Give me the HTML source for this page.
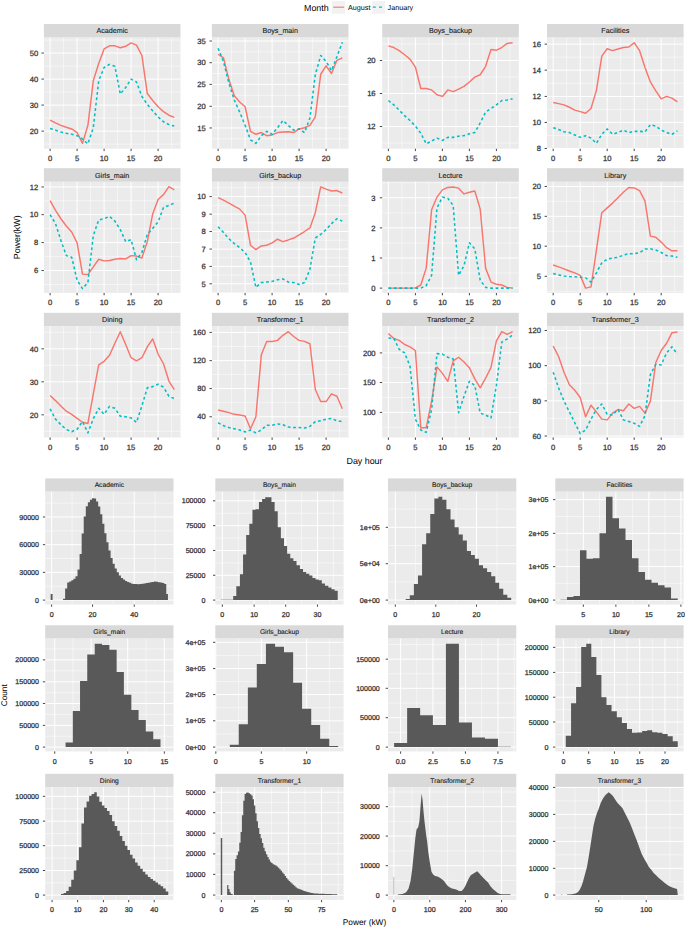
<!DOCTYPE html>
<html><head><meta charset="utf-8"><style>
html,body{margin:0;padding:0;background:#fff;}
svg{display:block;}
text{font-family:"Liberation Sans", sans-serif;text-rendering:geometricPrecision;}
text.t{stroke:currentColor;stroke-width:0.28px;}
text.s{stroke:currentColor;stroke-width:0.12px;}
</style></head><body>
<svg width="685" height="927" viewBox="0 0 685 927" font-family='"Liberation Sans", sans-serif'>
<rect width="685" height="927" fill="#fff"/>
<rect x="43.9" y="24" width="136.6" height="13.6" fill="#D9D9D9"/>
<text x="112.2" y="33.38" class="s" font-size="7.2" fill="#1A1A1A" color="#1A1A1A" text-anchor="middle">Academic</text>
<rect x="43.9" y="37.6" width="136.6" height="111.1" fill="#EBEBEB"/>
<line x1="63.6" y1="37.6" x2="63.6" y2="148.7" stroke="#fff" stroke-width="0.5"/>
<line x1="90.6" y1="37.6" x2="90.6" y2="148.7" stroke="#fff" stroke-width="0.5"/>
<line x1="117.6" y1="37.6" x2="117.6" y2="148.7" stroke="#fff" stroke-width="0.5"/>
<line x1="144.6" y1="37.6" x2="144.6" y2="148.7" stroke="#fff" stroke-width="0.5"/>
<line x1="171.6" y1="37.6" x2="171.6" y2="148.7" stroke="#fff" stroke-width="0.5"/>
<line x1="43.9" y1="66.07" x2="180.5" y2="66.07" stroke="#fff" stroke-width="0.5"/>
<line x1="43.9" y1="92.09" x2="180.5" y2="92.09" stroke="#fff" stroke-width="0.5"/>
<line x1="43.9" y1="118.1" x2="180.5" y2="118.1" stroke="#fff" stroke-width="0.5"/>
<line x1="43.9" y1="40.06" x2="180.5" y2="40.06" stroke="#fff" stroke-width="0.5"/>
<line x1="43.9" y1="144.12" x2="180.5" y2="144.12" stroke="#fff" stroke-width="0.5"/>
<line x1="50.1" y1="37.6" x2="50.1" y2="148.7" stroke="#fff" stroke-width="1.0"/>
<line x1="77.1" y1="37.6" x2="77.1" y2="148.7" stroke="#fff" stroke-width="1.0"/>
<line x1="104.1" y1="37.6" x2="104.1" y2="148.7" stroke="#fff" stroke-width="1.0"/>
<line x1="131.1" y1="37.6" x2="131.1" y2="148.7" stroke="#fff" stroke-width="1.0"/>
<line x1="158.1" y1="37.6" x2="158.1" y2="148.7" stroke="#fff" stroke-width="1.0"/>
<line x1="43.9" y1="53.07" x2="180.5" y2="53.07" stroke="#fff" stroke-width="1.0"/>
<line x1="43.9" y1="79.08" x2="180.5" y2="79.08" stroke="#fff" stroke-width="1.0"/>
<line x1="43.9" y1="105.09" x2="180.5" y2="105.09" stroke="#fff" stroke-width="1.0"/>
<line x1="43.9" y1="131.11" x2="180.5" y2="131.11" stroke="#fff" stroke-width="1.0"/>
<svg x="43.9" y="37.6" width="136.6" height="111.1" overflow="hidden"><g transform="translate(-43.9,-37.6)">
<polyline points="50.1,120.03 55.5,122.92 60.9,125.33 66.3,127.26 71.7,128.94 77.1,132.55 82.5,143.39 87.9,125.33 93.3,80.77 98.7,63.42 104.1,48.97 109.5,45.84 114.9,45.84 120.3,47.77 125.7,46.32 131.1,42.95 136.5,45.12 141.9,55.47 147.3,93.53 152.7,100.52 158.1,106.78 163.5,111.6 168.9,115.21 174.3,117.38" fill="none" stroke="#F8766D" stroke-width="1.45" stroke-linejoin="round"/>
<polyline points="50.1,128.46 55.5,130.15 60.9,132.07 66.3,133.28 71.7,134.24 77.1,135.69 82.5,139.06 87.9,143.88 93.3,127.74 98.7,80.77 104.1,67.52 109.5,64.39 114.9,66.31 120.3,94.01 125.7,87.51 131.1,79.08 136.5,81.97 141.9,96.42 147.3,104.37 152.7,110.88 158.1,116.9 163.5,121.72 168.9,124.61 174.3,126.05" fill="none" stroke="#00BFC4" stroke-width="1.55" stroke-dasharray="2.8 2.6" stroke-linejoin="round"/>
</g></svg>
<line x1="50.1" y1="148.7" x2="50.1" y2="151.1" stroke="#333333" stroke-width="0.9"/>
<text x="50.1" y="161.22" class="t" font-size="7.6" fill="#383838" color="#383838" text-anchor="middle">0</text>
<line x1="77.1" y1="148.7" x2="77.1" y2="151.1" stroke="#333333" stroke-width="0.9"/>
<text x="77.1" y="161.22" class="t" font-size="7.6" fill="#383838" color="#383838" text-anchor="middle">5</text>
<line x1="104.1" y1="148.7" x2="104.1" y2="151.1" stroke="#333333" stroke-width="0.9"/>
<text x="104.1" y="161.22" class="t" font-size="7.6" fill="#383838" color="#383838" text-anchor="middle">10</text>
<line x1="131.1" y1="148.7" x2="131.1" y2="151.1" stroke="#333333" stroke-width="0.9"/>
<text x="131.1" y="161.22" class="t" font-size="7.6" fill="#383838" color="#383838" text-anchor="middle">15</text>
<line x1="158.1" y1="148.7" x2="158.1" y2="151.1" stroke="#333333" stroke-width="0.9"/>
<text x="158.1" y="161.22" class="t" font-size="7.6" fill="#383838" color="#383838" text-anchor="middle">20</text>
<line x1="41.5" y1="53.07" x2="43.9" y2="53.07" stroke="#333333" stroke-width="0.9"/>
<text x="38.3" y="55.79" class="t" font-size="7.6" fill="#383838" color="#383838" text-anchor="end">50</text>
<line x1="41.5" y1="79.08" x2="43.9" y2="79.08" stroke="#333333" stroke-width="0.9"/>
<text x="38.3" y="81.8" class="t" font-size="7.6" fill="#383838" color="#383838" text-anchor="end">40</text>
<line x1="41.5" y1="105.09" x2="43.9" y2="105.09" stroke="#333333" stroke-width="0.9"/>
<text x="38.3" y="107.82" class="t" font-size="7.6" fill="#383838" color="#383838" text-anchor="end">30</text>
<line x1="41.5" y1="131.11" x2="43.9" y2="131.11" stroke="#333333" stroke-width="0.9"/>
<text x="38.3" y="133.83" class="t" font-size="7.6" fill="#383838" color="#383838" text-anchor="end">20</text>
<rect x="211.9" y="24" width="136.6" height="13.6" fill="#D9D9D9"/>
<text x="280.2" y="33.38" class="s" font-size="7.2" fill="#1A1A1A" color="#1A1A1A" text-anchor="middle">Boys_main</text>
<rect x="211.9" y="37.6" width="136.6" height="111.1" fill="#EBEBEB"/>
<line x1="231.6" y1="37.6" x2="231.6" y2="148.7" stroke="#fff" stroke-width="0.5"/>
<line x1="258.6" y1="37.6" x2="258.6" y2="148.7" stroke="#fff" stroke-width="0.5"/>
<line x1="285.6" y1="37.6" x2="285.6" y2="148.7" stroke="#fff" stroke-width="0.5"/>
<line x1="312.6" y1="37.6" x2="312.6" y2="148.7" stroke="#fff" stroke-width="0.5"/>
<line x1="339.6" y1="37.6" x2="339.6" y2="148.7" stroke="#fff" stroke-width="0.5"/>
<line x1="211.9" y1="51.86" x2="348.5" y2="51.86" stroke="#fff" stroke-width="0.5"/>
<line x1="211.9" y1="73.54" x2="348.5" y2="73.54" stroke="#fff" stroke-width="0.5"/>
<line x1="211.9" y1="95.34" x2="348.5" y2="95.34" stroke="#fff" stroke-width="0.5"/>
<line x1="211.9" y1="117.14" x2="348.5" y2="117.14" stroke="#fff" stroke-width="0.5"/>
<line x1="211.9" y1="138.82" x2="348.5" y2="138.82" stroke="#fff" stroke-width="0.5"/>
<line x1="218.1" y1="37.6" x2="218.1" y2="148.7" stroke="#fff" stroke-width="1.0"/>
<line x1="245.1" y1="37.6" x2="245.1" y2="148.7" stroke="#fff" stroke-width="1.0"/>
<line x1="272.1" y1="37.6" x2="272.1" y2="148.7" stroke="#fff" stroke-width="1.0"/>
<line x1="299.1" y1="37.6" x2="299.1" y2="148.7" stroke="#fff" stroke-width="1.0"/>
<line x1="326.1" y1="37.6" x2="326.1" y2="148.7" stroke="#fff" stroke-width="1.0"/>
<line x1="211.9" y1="41.02" x2="348.5" y2="41.02" stroke="#fff" stroke-width="1.0"/>
<line x1="211.9" y1="62.7" x2="348.5" y2="62.7" stroke="#fff" stroke-width="1.0"/>
<line x1="211.9" y1="84.38" x2="348.5" y2="84.38" stroke="#fff" stroke-width="1.0"/>
<line x1="211.9" y1="106.3" x2="348.5" y2="106.3" stroke="#fff" stroke-width="1.0"/>
<line x1="211.9" y1="127.98" x2="348.5" y2="127.98" stroke="#fff" stroke-width="1.0"/>
<svg x="211.9" y="37.6" width="136.6" height="111.1" overflow="hidden"><g transform="translate(-211.9,-37.6)">
<polyline points="218.1,54.27 223.5,57.88 228.9,79.56 234.3,95.7 239.7,101.96 245.1,106.78 250.5,131.35 255.9,134.24 261.3,132.55 266.7,135.69 272.1,134.96 277.5,132.55 282.9,132.07 288.3,131.83 293.7,132.55 299.1,128.94 304.5,127.74 309.9,125.33 315.3,116.9 320.7,74.26 326.1,65.83 331.5,73.54 336.9,60.29 342.3,57.88" fill="none" stroke="#F8766D" stroke-width="1.45" stroke-linejoin="round"/>
<polyline points="218.1,48.25 223.5,61.5 228.9,83.18 234.3,100.04 239.7,112.08 245.1,125.33 250.5,139.78 255.9,143.39 261.3,135.69 266.7,131.35 272.1,134.24 277.5,127.74 282.9,120.51 288.3,125.33 293.7,130.15 299.1,128.94 304.5,132.55 309.9,118.1 315.3,74.74 320.7,55.47 326.1,61.5 331.5,70.65 336.9,56.68 342.3,42.23" fill="none" stroke="#00BFC4" stroke-width="1.55" stroke-dasharray="2.8 2.6" stroke-linejoin="round"/>
</g></svg>
<line x1="218.1" y1="148.7" x2="218.1" y2="151.1" stroke="#333333" stroke-width="0.9"/>
<text x="218.1" y="161.22" class="t" font-size="7.6" fill="#383838" color="#383838" text-anchor="middle">0</text>
<line x1="245.1" y1="148.7" x2="245.1" y2="151.1" stroke="#333333" stroke-width="0.9"/>
<text x="245.1" y="161.22" class="t" font-size="7.6" fill="#383838" color="#383838" text-anchor="middle">5</text>
<line x1="272.1" y1="148.7" x2="272.1" y2="151.1" stroke="#333333" stroke-width="0.9"/>
<text x="272.1" y="161.22" class="t" font-size="7.6" fill="#383838" color="#383838" text-anchor="middle">10</text>
<line x1="299.1" y1="148.7" x2="299.1" y2="151.1" stroke="#333333" stroke-width="0.9"/>
<text x="299.1" y="161.22" class="t" font-size="7.6" fill="#383838" color="#383838" text-anchor="middle">15</text>
<line x1="326.1" y1="148.7" x2="326.1" y2="151.1" stroke="#333333" stroke-width="0.9"/>
<text x="326.1" y="161.22" class="t" font-size="7.6" fill="#383838" color="#383838" text-anchor="middle">20</text>
<line x1="209.5" y1="41.02" x2="211.9" y2="41.02" stroke="#333333" stroke-width="0.9"/>
<text x="205.7" y="43.74" class="t" font-size="7.6" fill="#383838" color="#383838" text-anchor="end">35</text>
<line x1="209.5" y1="62.7" x2="211.9" y2="62.7" stroke="#333333" stroke-width="0.9"/>
<text x="205.7" y="65.42" class="t" font-size="7.6" fill="#383838" color="#383838" text-anchor="end">30</text>
<line x1="209.5" y1="84.38" x2="211.9" y2="84.38" stroke="#333333" stroke-width="0.9"/>
<text x="205.7" y="87.1" class="t" font-size="7.6" fill="#383838" color="#383838" text-anchor="end">25</text>
<line x1="209.5" y1="106.3" x2="211.9" y2="106.3" stroke="#333333" stroke-width="0.9"/>
<text x="205.7" y="109.02" class="t" font-size="7.6" fill="#383838" color="#383838" text-anchor="end">20</text>
<line x1="209.5" y1="127.98" x2="211.9" y2="127.98" stroke="#333333" stroke-width="0.9"/>
<text x="205.7" y="130.7" class="t" font-size="7.6" fill="#383838" color="#383838" text-anchor="end">15</text>
<rect x="382.2" y="24" width="136.6" height="13.6" fill="#D9D9D9"/>
<text x="450.5" y="33.38" class="s" font-size="7.2" fill="#1A1A1A" color="#1A1A1A" text-anchor="middle">Boys_backup</text>
<rect x="382.2" y="37.6" width="136.6" height="111.1" fill="#EBEBEB"/>
<line x1="401.9" y1="37.6" x2="401.9" y2="148.7" stroke="#fff" stroke-width="0.5"/>
<line x1="428.9" y1="37.6" x2="428.9" y2="148.7" stroke="#fff" stroke-width="0.5"/>
<line x1="455.9" y1="37.6" x2="455.9" y2="148.7" stroke="#fff" stroke-width="0.5"/>
<line x1="482.9" y1="37.6" x2="482.9" y2="148.7" stroke="#fff" stroke-width="0.5"/>
<line x1="509.9" y1="37.6" x2="509.9" y2="148.7" stroke="#fff" stroke-width="0.5"/>
<line x1="382.2" y1="77.03" x2="518.8" y2="77.03" stroke="#fff" stroke-width="0.5"/>
<line x1="382.2" y1="110.03" x2="518.8" y2="110.03" stroke="#fff" stroke-width="0.5"/>
<line x1="382.2" y1="44.03" x2="518.8" y2="44.03" stroke="#fff" stroke-width="0.5"/>
<line x1="382.2" y1="143.03" x2="518.8" y2="143.03" stroke="#fff" stroke-width="0.5"/>
<line x1="388.4" y1="37.6" x2="388.4" y2="148.7" stroke="#fff" stroke-width="1.0"/>
<line x1="415.4" y1="37.6" x2="415.4" y2="148.7" stroke="#fff" stroke-width="1.0"/>
<line x1="442.4" y1="37.6" x2="442.4" y2="148.7" stroke="#fff" stroke-width="1.0"/>
<line x1="469.4" y1="37.6" x2="469.4" y2="148.7" stroke="#fff" stroke-width="1.0"/>
<line x1="496.4" y1="37.6" x2="496.4" y2="148.7" stroke="#fff" stroke-width="1.0"/>
<line x1="382.2" y1="60.53" x2="518.8" y2="60.53" stroke="#fff" stroke-width="1.0"/>
<line x1="382.2" y1="93.53" x2="518.8" y2="93.53" stroke="#fff" stroke-width="1.0"/>
<line x1="382.2" y1="126.53" x2="518.8" y2="126.53" stroke="#fff" stroke-width="1.0"/>
<svg x="382.2" y="37.6" width="136.6" height="111.1" overflow="hidden"><g transform="translate(-382.2,-37.6)">
<polyline points="388.4,45.84 393.8,47.53 399.2,50.66 404.6,54.75 410,59.09 415.4,67.04 420.8,88.47 426.2,88.47 431.6,89.92 437,94.74 442.4,96.42 447.8,89.92 453.2,91.61 458.6,89.2 464,86.31 469.4,81.97 474.8,77.15 480.2,74.74 485.6,66.31 491,49.45 496.4,50.18 501.8,47.53 507.2,43.43 512.6,42.71" fill="none" stroke="#F8766D" stroke-width="1.45" stroke-linejoin="round"/>
<polyline points="388.4,100.52 393.8,104.85 399.2,110.15 404.6,115.69 410,120.51 415.4,126.05 420.8,133.28 426.2,143.88 431.6,140.99 437,138.09 442.4,140.5 447.8,137.37 453.2,137.37 458.6,136.17 464,135.69 469.4,133.76 474.8,132.55 480.2,122.92 485.6,112.08 491,108.47 496.4,104.85 501.8,100.52 507.2,100.04 512.6,98.83" fill="none" stroke="#00BFC4" stroke-width="1.55" stroke-dasharray="2.8 2.6" stroke-linejoin="round"/>
</g></svg>
<line x1="388.4" y1="148.7" x2="388.4" y2="151.1" stroke="#333333" stroke-width="0.9"/>
<text x="388.4" y="161.22" class="t" font-size="7.6" fill="#383838" color="#383838" text-anchor="middle">0</text>
<line x1="415.4" y1="148.7" x2="415.4" y2="151.1" stroke="#333333" stroke-width="0.9"/>
<text x="415.4" y="161.22" class="t" font-size="7.6" fill="#383838" color="#383838" text-anchor="middle">5</text>
<line x1="442.4" y1="148.7" x2="442.4" y2="151.1" stroke="#333333" stroke-width="0.9"/>
<text x="442.4" y="161.22" class="t" font-size="7.6" fill="#383838" color="#383838" text-anchor="middle">10</text>
<line x1="469.4" y1="148.7" x2="469.4" y2="151.1" stroke="#333333" stroke-width="0.9"/>
<text x="469.4" y="161.22" class="t" font-size="7.6" fill="#383838" color="#383838" text-anchor="middle">15</text>
<line x1="496.4" y1="148.7" x2="496.4" y2="151.1" stroke="#333333" stroke-width="0.9"/>
<text x="496.4" y="161.22" class="t" font-size="7.6" fill="#383838" color="#383838" text-anchor="middle">20</text>
<line x1="379.8" y1="60.53" x2="382.2" y2="60.53" stroke="#333333" stroke-width="0.9"/>
<text x="375.6" y="63.25" class="t" font-size="7.6" fill="#383838" color="#383838" text-anchor="end">20</text>
<line x1="379.8" y1="93.53" x2="382.2" y2="93.53" stroke="#333333" stroke-width="0.9"/>
<text x="375.6" y="96.25" class="t" font-size="7.6" fill="#383838" color="#383838" text-anchor="end">16</text>
<line x1="379.8" y1="126.53" x2="382.2" y2="126.53" stroke="#333333" stroke-width="0.9"/>
<text x="375.6" y="129.25" class="t" font-size="7.6" fill="#383838" color="#383838" text-anchor="end">12</text>
<rect x="547" y="24" width="136.6" height="13.6" fill="#D9D9D9"/>
<text x="615.3" y="33.38" class="s" font-size="7.2" fill="#1A1A1A" color="#1A1A1A" text-anchor="middle">Facilities</text>
<rect x="547" y="37.6" width="136.6" height="111.1" fill="#EBEBEB"/>
<line x1="566.7" y1="37.6" x2="566.7" y2="148.7" stroke="#fff" stroke-width="0.5"/>
<line x1="593.7" y1="37.6" x2="593.7" y2="148.7" stroke="#fff" stroke-width="0.5"/>
<line x1="620.7" y1="37.6" x2="620.7" y2="148.7" stroke="#fff" stroke-width="0.5"/>
<line x1="647.7" y1="37.6" x2="647.7" y2="148.7" stroke="#fff" stroke-width="0.5"/>
<line x1="674.7" y1="37.6" x2="674.7" y2="148.7" stroke="#fff" stroke-width="0.5"/>
<line x1="547" y1="57.16" x2="683.6" y2="57.16" stroke="#fff" stroke-width="0.5"/>
<line x1="547" y1="83.3" x2="683.6" y2="83.3" stroke="#fff" stroke-width="0.5"/>
<line x1="547" y1="109.43" x2="683.6" y2="109.43" stroke="#fff" stroke-width="0.5"/>
<line x1="547" y1="135.45" x2="683.6" y2="135.45" stroke="#fff" stroke-width="0.5"/>
<line x1="553.2" y1="37.6" x2="553.2" y2="148.7" stroke="#fff" stroke-width="1.0"/>
<line x1="580.2" y1="37.6" x2="580.2" y2="148.7" stroke="#fff" stroke-width="1.0"/>
<line x1="607.2" y1="37.6" x2="607.2" y2="148.7" stroke="#fff" stroke-width="1.0"/>
<line x1="634.2" y1="37.6" x2="634.2" y2="148.7" stroke="#fff" stroke-width="1.0"/>
<line x1="661.2" y1="37.6" x2="661.2" y2="148.7" stroke="#fff" stroke-width="1.0"/>
<line x1="547" y1="44.15" x2="683.6" y2="44.15" stroke="#fff" stroke-width="1.0"/>
<line x1="547" y1="70.17" x2="683.6" y2="70.17" stroke="#fff" stroke-width="1.0"/>
<line x1="547" y1="96.42" x2="683.6" y2="96.42" stroke="#fff" stroke-width="1.0"/>
<line x1="547" y1="122.44" x2="683.6" y2="122.44" stroke="#fff" stroke-width="1.0"/>
<line x1="547" y1="148.45" x2="683.6" y2="148.45" stroke="#fff" stroke-width="1.0"/>
<svg x="547" y="37.6" width="136.6" height="111.1" overflow="hidden"><g transform="translate(-547,-37.6)">
<polyline points="553.2,102.45 558.6,103.65 564,104.85 569.4,107.26 574.8,110.15 580.2,111.6 585.6,113.28 591,108.47 596.4,90.4 601.8,56.2 607.2,48.73 612.6,50.66 618,48.97 623.4,47.53 628.8,47.04 634.2,42.71 639.6,50.66 645,67.52 650.4,81.97 655.8,90.88 661.2,98.83 666.6,96.42 672,98.11 677.4,101.96" fill="none" stroke="#F8766D" stroke-width="1.45" stroke-linejoin="round"/>
<polyline points="553.2,127.74 558.6,129.42 564,131.83 569.4,132.55 574.8,134.96 580.2,137.37 585.6,135.69 591,138.09 596.4,143.39 601.8,134.24 607.2,128.94 612.6,134.24 618,132.55 623.4,130.15 628.8,132.55 634.2,131.35 639.6,131.35 645,131.83 650.4,124.61 655.8,126.05 661.2,130.15 666.6,132.55 672,134.24 677.4,130.87" fill="none" stroke="#00BFC4" stroke-width="1.55" stroke-dasharray="2.8 2.6" stroke-linejoin="round"/>
</g></svg>
<line x1="553.2" y1="148.7" x2="553.2" y2="151.1" stroke="#333333" stroke-width="0.9"/>
<text x="553.2" y="161.22" class="t" font-size="7.6" fill="#383838" color="#383838" text-anchor="middle">0</text>
<line x1="580.2" y1="148.7" x2="580.2" y2="151.1" stroke="#333333" stroke-width="0.9"/>
<text x="580.2" y="161.22" class="t" font-size="7.6" fill="#383838" color="#383838" text-anchor="middle">5</text>
<line x1="607.2" y1="148.7" x2="607.2" y2="151.1" stroke="#333333" stroke-width="0.9"/>
<text x="607.2" y="161.22" class="t" font-size="7.6" fill="#383838" color="#383838" text-anchor="middle">10</text>
<line x1="634.2" y1="148.7" x2="634.2" y2="151.1" stroke="#333333" stroke-width="0.9"/>
<text x="634.2" y="161.22" class="t" font-size="7.6" fill="#383838" color="#383838" text-anchor="middle">15</text>
<line x1="661.2" y1="148.7" x2="661.2" y2="151.1" stroke="#333333" stroke-width="0.9"/>
<text x="661.2" y="161.22" class="t" font-size="7.6" fill="#383838" color="#383838" text-anchor="middle">20</text>
<line x1="544.6" y1="44.15" x2="547" y2="44.15" stroke="#333333" stroke-width="0.9"/>
<text x="541" y="46.87" class="t" font-size="7.6" fill="#383838" color="#383838" text-anchor="end">16</text>
<line x1="544.6" y1="70.17" x2="547" y2="70.17" stroke="#333333" stroke-width="0.9"/>
<text x="541" y="72.89" class="t" font-size="7.6" fill="#383838" color="#383838" text-anchor="end">14</text>
<line x1="544.6" y1="96.42" x2="547" y2="96.42" stroke="#333333" stroke-width="0.9"/>
<text x="541" y="99.14" class="t" font-size="7.6" fill="#383838" color="#383838" text-anchor="end">12</text>
<line x1="544.6" y1="122.44" x2="547" y2="122.44" stroke="#333333" stroke-width="0.9"/>
<text x="541" y="125.16" class="t" font-size="7.6" fill="#383838" color="#383838" text-anchor="end">10</text>
<line x1="544.6" y1="148.45" x2="547" y2="148.45" stroke="#333333" stroke-width="0.9"/>
<text x="541" y="151.17" class="t" font-size="7.6" fill="#383838" color="#383838" text-anchor="end">8</text>
<rect x="43.9" y="168.2" width="136.6" height="13.6" fill="#D9D9D9"/>
<text x="112.2" y="177.58" class="s" font-size="7.2" fill="#1A1A1A" color="#1A1A1A" text-anchor="middle">Girls_main</text>
<rect x="43.9" y="181.8" width="136.6" height="111.1" fill="#EBEBEB"/>
<line x1="63.6" y1="181.8" x2="63.6" y2="292.9" stroke="#fff" stroke-width="0.5"/>
<line x1="90.6" y1="181.8" x2="90.6" y2="292.9" stroke="#fff" stroke-width="0.5"/>
<line x1="117.6" y1="181.8" x2="117.6" y2="292.9" stroke="#fff" stroke-width="0.5"/>
<line x1="144.6" y1="181.8" x2="144.6" y2="292.9" stroke="#fff" stroke-width="0.5"/>
<line x1="171.6" y1="181.8" x2="171.6" y2="292.9" stroke="#fff" stroke-width="0.5"/>
<line x1="43.9" y1="200.8" x2="180.5" y2="200.8" stroke="#fff" stroke-width="0.5"/>
<line x1="43.9" y1="228.62" x2="180.5" y2="228.62" stroke="#fff" stroke-width="0.5"/>
<line x1="43.9" y1="256.56" x2="180.5" y2="256.56" stroke="#fff" stroke-width="0.5"/>
<line x1="43.9" y1="284.5" x2="180.5" y2="284.5" stroke="#fff" stroke-width="0.5"/>
<line x1="50.1" y1="181.8" x2="50.1" y2="292.9" stroke="#fff" stroke-width="1.0"/>
<line x1="77.1" y1="181.8" x2="77.1" y2="292.9" stroke="#fff" stroke-width="1.0"/>
<line x1="104.1" y1="181.8" x2="104.1" y2="292.9" stroke="#fff" stroke-width="1.0"/>
<line x1="131.1" y1="181.8" x2="131.1" y2="292.9" stroke="#fff" stroke-width="1.0"/>
<line x1="158.1" y1="181.8" x2="158.1" y2="292.9" stroke="#fff" stroke-width="1.0"/>
<line x1="43.9" y1="186.95" x2="180.5" y2="186.95" stroke="#fff" stroke-width="1.0"/>
<line x1="43.9" y1="214.65" x2="180.5" y2="214.65" stroke="#fff" stroke-width="1.0"/>
<line x1="43.9" y1="242.59" x2="180.5" y2="242.59" stroke="#fff" stroke-width="1.0"/>
<line x1="43.9" y1="270.53" x2="180.5" y2="270.53" stroke="#fff" stroke-width="1.0"/>
<svg x="43.9" y="181.8" width="136.6" height="111.1" overflow="hidden"><g transform="translate(-43.9,-181.8)">
<polyline points="50.1,200.68 55.5,210.31 60.9,218.74 66.3,225.97 71.7,231.99 77.1,242.83 82.5,274.15 87.9,274.63 93.3,266.92 98.7,259.21 104.1,260.9 109.5,260.42 114.9,259.21 120.3,258.49 125.7,258.97 131.1,255.6 136.5,256.08 141.9,258.01 147.3,241.63 152.7,213.93 158.1,199.47 163.5,194.66 168.9,186.71 174.3,189.84" fill="none" stroke="#F8766D" stroke-width="1.45" stroke-linejoin="round"/>
<polyline points="50.1,214.65 55.5,223.56 60.9,240.42 66.3,255.6 71.7,257.28 77.1,280.17 82.5,288.6 87.9,282.58 93.3,235.61 98.7,219.95 104.1,218.74 109.5,216.34 114.9,221.15 120.3,229.58 125.7,241.63 131.1,239.7 136.5,259.69 141.9,252.47 147.3,234.4 152.7,228.38 158.1,221.88 163.5,207.42 168.9,205.5 174.3,203.09" fill="none" stroke="#00BFC4" stroke-width="1.55" stroke-dasharray="2.8 2.6" stroke-linejoin="round"/>
</g></svg>
<line x1="50.1" y1="292.9" x2="50.1" y2="295.3" stroke="#333333" stroke-width="0.9"/>
<text x="50.1" y="305.42" class="t" font-size="7.6" fill="#383838" color="#383838" text-anchor="middle">0</text>
<line x1="77.1" y1="292.9" x2="77.1" y2="295.3" stroke="#333333" stroke-width="0.9"/>
<text x="77.1" y="305.42" class="t" font-size="7.6" fill="#383838" color="#383838" text-anchor="middle">5</text>
<line x1="104.1" y1="292.9" x2="104.1" y2="295.3" stroke="#333333" stroke-width="0.9"/>
<text x="104.1" y="305.42" class="t" font-size="7.6" fill="#383838" color="#383838" text-anchor="middle">10</text>
<line x1="131.1" y1="292.9" x2="131.1" y2="295.3" stroke="#333333" stroke-width="0.9"/>
<text x="131.1" y="305.42" class="t" font-size="7.6" fill="#383838" color="#383838" text-anchor="middle">15</text>
<line x1="158.1" y1="292.9" x2="158.1" y2="295.3" stroke="#333333" stroke-width="0.9"/>
<text x="158.1" y="305.42" class="t" font-size="7.6" fill="#383838" color="#383838" text-anchor="middle">20</text>
<line x1="41.5" y1="186.95" x2="43.9" y2="186.95" stroke="#333333" stroke-width="0.9"/>
<text x="38.3" y="189.67" class="t" font-size="7.6" fill="#383838" color="#383838" text-anchor="end">12</text>
<line x1="41.5" y1="214.65" x2="43.9" y2="214.65" stroke="#333333" stroke-width="0.9"/>
<text x="38.3" y="217.37" class="t" font-size="7.6" fill="#383838" color="#383838" text-anchor="end">10</text>
<line x1="41.5" y1="242.59" x2="43.9" y2="242.59" stroke="#333333" stroke-width="0.9"/>
<text x="38.3" y="245.31" class="t" font-size="7.6" fill="#383838" color="#383838" text-anchor="end">8</text>
<line x1="41.5" y1="270.53" x2="43.9" y2="270.53" stroke="#333333" stroke-width="0.9"/>
<text x="38.3" y="273.25" class="t" font-size="7.6" fill="#383838" color="#383838" text-anchor="end">6</text>
<rect x="211.9" y="168.2" width="136.6" height="13.6" fill="#D9D9D9"/>
<text x="280.2" y="177.58" class="s" font-size="7.2" fill="#1A1A1A" color="#1A1A1A" text-anchor="middle">Girls_backup</text>
<rect x="211.9" y="181.8" width="136.6" height="111.1" fill="#EBEBEB"/>
<line x1="231.6" y1="181.8" x2="231.6" y2="292.9" stroke="#fff" stroke-width="0.5"/>
<line x1="258.6" y1="181.8" x2="258.6" y2="292.9" stroke="#fff" stroke-width="0.5"/>
<line x1="285.6" y1="181.8" x2="285.6" y2="292.9" stroke="#fff" stroke-width="0.5"/>
<line x1="312.6" y1="181.8" x2="312.6" y2="292.9" stroke="#fff" stroke-width="0.5"/>
<line x1="339.6" y1="181.8" x2="339.6" y2="292.9" stroke="#fff" stroke-width="0.5"/>
<line x1="211.9" y1="205.38" x2="348.5" y2="205.38" stroke="#fff" stroke-width="0.5"/>
<line x1="211.9" y1="222.84" x2="348.5" y2="222.84" stroke="#fff" stroke-width="0.5"/>
<line x1="211.9" y1="240.3" x2="348.5" y2="240.3" stroke="#fff" stroke-width="0.5"/>
<line x1="211.9" y1="257.77" x2="348.5" y2="257.77" stroke="#fff" stroke-width="0.5"/>
<line x1="211.9" y1="275.11" x2="348.5" y2="275.11" stroke="#fff" stroke-width="0.5"/>
<line x1="211.9" y1="187.79" x2="348.5" y2="187.79" stroke="#fff" stroke-width="0.5"/>
<line x1="211.9" y1="292.45" x2="348.5" y2="292.45" stroke="#fff" stroke-width="0.5"/>
<line x1="218.1" y1="181.8" x2="218.1" y2="292.9" stroke="#fff" stroke-width="1.0"/>
<line x1="245.1" y1="181.8" x2="245.1" y2="292.9" stroke="#fff" stroke-width="1.0"/>
<line x1="272.1" y1="181.8" x2="272.1" y2="292.9" stroke="#fff" stroke-width="1.0"/>
<line x1="299.1" y1="181.8" x2="299.1" y2="292.9" stroke="#fff" stroke-width="1.0"/>
<line x1="326.1" y1="181.8" x2="326.1" y2="292.9" stroke="#fff" stroke-width="1.0"/>
<line x1="211.9" y1="196.58" x2="348.5" y2="196.58" stroke="#fff" stroke-width="1.0"/>
<line x1="211.9" y1="214.17" x2="348.5" y2="214.17" stroke="#fff" stroke-width="1.0"/>
<line x1="211.9" y1="231.51" x2="348.5" y2="231.51" stroke="#fff" stroke-width="1.0"/>
<line x1="211.9" y1="249.09" x2="348.5" y2="249.09" stroke="#fff" stroke-width="1.0"/>
<line x1="211.9" y1="266.44" x2="348.5" y2="266.44" stroke="#fff" stroke-width="1.0"/>
<line x1="211.9" y1="283.78" x2="348.5" y2="283.78" stroke="#fff" stroke-width="1.0"/>
<svg x="211.9" y="181.8" width="136.6" height="111.1" overflow="hidden"><g transform="translate(-211.9,-181.8)">
<polyline points="218.1,197.55 223.5,200.2 228.9,203.09 234.3,206.22 239.7,209.11 245.1,215.13 250.5,245.24 255.9,249.58 261.3,245.96 266.7,245.24 272.1,242.83 277.5,239.22 282.9,241.63 288.3,239.94 293.7,238.01 299.1,234.88 304.5,231.51 309.9,227.9 315.3,212.72 320.7,186.95 326.1,189.12 331.5,191.04 336.9,190.56 342.3,192.97" fill="none" stroke="#F8766D" stroke-width="1.45" stroke-linejoin="round"/>
<polyline points="218.1,226.69 223.5,232.47 228.9,238.74 234.3,243.55 239.7,247.65 245.1,252.47 250.5,262.1 255.9,287.39 261.3,282.58 266.7,282.09 272.1,281.37 277.5,279.69 282.9,278.96 288.3,282.09 293.7,282.58 299.1,284.5 304.5,282.58 309.9,269.33 315.3,238.01 320.7,234.4 326.1,229.58 331.5,223.56 336.9,218.74 342.3,221.15" fill="none" stroke="#00BFC4" stroke-width="1.55" stroke-dasharray="2.8 2.6" stroke-linejoin="round"/>
</g></svg>
<line x1="218.1" y1="292.9" x2="218.1" y2="295.3" stroke="#333333" stroke-width="0.9"/>
<text x="218.1" y="305.42" class="t" font-size="7.6" fill="#383838" color="#383838" text-anchor="middle">0</text>
<line x1="245.1" y1="292.9" x2="245.1" y2="295.3" stroke="#333333" stroke-width="0.9"/>
<text x="245.1" y="305.42" class="t" font-size="7.6" fill="#383838" color="#383838" text-anchor="middle">5</text>
<line x1="272.1" y1="292.9" x2="272.1" y2="295.3" stroke="#333333" stroke-width="0.9"/>
<text x="272.1" y="305.42" class="t" font-size="7.6" fill="#383838" color="#383838" text-anchor="middle">10</text>
<line x1="299.1" y1="292.9" x2="299.1" y2="295.3" stroke="#333333" stroke-width="0.9"/>
<text x="299.1" y="305.42" class="t" font-size="7.6" fill="#383838" color="#383838" text-anchor="middle">15</text>
<line x1="326.1" y1="292.9" x2="326.1" y2="295.3" stroke="#333333" stroke-width="0.9"/>
<text x="326.1" y="305.42" class="t" font-size="7.6" fill="#383838" color="#383838" text-anchor="middle">20</text>
<line x1="209.5" y1="196.58" x2="211.9" y2="196.58" stroke="#333333" stroke-width="0.9"/>
<text x="205.7" y="199.3" class="t" font-size="7.6" fill="#383838" color="#383838" text-anchor="end">10</text>
<line x1="209.5" y1="214.17" x2="211.9" y2="214.17" stroke="#333333" stroke-width="0.9"/>
<text x="205.7" y="216.89" class="t" font-size="7.6" fill="#383838" color="#383838" text-anchor="end">9</text>
<line x1="209.5" y1="231.51" x2="211.9" y2="231.51" stroke="#333333" stroke-width="0.9"/>
<text x="205.7" y="234.23" class="t" font-size="7.6" fill="#383838" color="#383838" text-anchor="end">8</text>
<line x1="209.5" y1="249.09" x2="211.9" y2="249.09" stroke="#333333" stroke-width="0.9"/>
<text x="205.7" y="251.82" class="t" font-size="7.6" fill="#383838" color="#383838" text-anchor="end">7</text>
<line x1="209.5" y1="266.44" x2="211.9" y2="266.44" stroke="#333333" stroke-width="0.9"/>
<text x="205.7" y="269.16" class="t" font-size="7.6" fill="#383838" color="#383838" text-anchor="end">6</text>
<line x1="209.5" y1="283.78" x2="211.9" y2="283.78" stroke="#333333" stroke-width="0.9"/>
<text x="205.7" y="286.5" class="t" font-size="7.6" fill="#383838" color="#383838" text-anchor="end">5</text>
<rect x="382.2" y="168.2" width="136.6" height="13.6" fill="#D9D9D9"/>
<text x="450.5" y="177.58" class="s" font-size="7.2" fill="#1A1A1A" color="#1A1A1A" text-anchor="middle">Lecture</text>
<rect x="382.2" y="181.8" width="136.6" height="111.1" fill="#EBEBEB"/>
<line x1="401.9" y1="181.8" x2="401.9" y2="292.9" stroke="#fff" stroke-width="0.5"/>
<line x1="428.9" y1="181.8" x2="428.9" y2="292.9" stroke="#fff" stroke-width="0.5"/>
<line x1="455.9" y1="181.8" x2="455.9" y2="292.9" stroke="#fff" stroke-width="0.5"/>
<line x1="482.9" y1="181.8" x2="482.9" y2="292.9" stroke="#fff" stroke-width="0.5"/>
<line x1="509.9" y1="181.8" x2="509.9" y2="292.9" stroke="#fff" stroke-width="0.5"/>
<line x1="382.2" y1="212.84" x2="518.8" y2="212.84" stroke="#fff" stroke-width="0.5"/>
<line x1="382.2" y1="242.95" x2="518.8" y2="242.95" stroke="#fff" stroke-width="0.5"/>
<line x1="382.2" y1="273.06" x2="518.8" y2="273.06" stroke="#fff" stroke-width="0.5"/>
<line x1="382.2" y1="182.73" x2="518.8" y2="182.73" stroke="#fff" stroke-width="0.5"/>
<line x1="388.4" y1="181.8" x2="388.4" y2="292.9" stroke="#fff" stroke-width="1.0"/>
<line x1="415.4" y1="181.8" x2="415.4" y2="292.9" stroke="#fff" stroke-width="1.0"/>
<line x1="442.4" y1="181.8" x2="442.4" y2="292.9" stroke="#fff" stroke-width="1.0"/>
<line x1="469.4" y1="181.8" x2="469.4" y2="292.9" stroke="#fff" stroke-width="1.0"/>
<line x1="496.4" y1="181.8" x2="496.4" y2="292.9" stroke="#fff" stroke-width="1.0"/>
<line x1="382.2" y1="197.79" x2="518.8" y2="197.79" stroke="#fff" stroke-width="1.0"/>
<line x1="382.2" y1="227.9" x2="518.8" y2="227.9" stroke="#fff" stroke-width="1.0"/>
<line x1="382.2" y1="258.01" x2="518.8" y2="258.01" stroke="#fff" stroke-width="1.0"/>
<line x1="382.2" y1="288.12" x2="518.8" y2="288.12" stroke="#fff" stroke-width="1.0"/>
<svg x="382.2" y="181.8" width="136.6" height="111.1" overflow="hidden"><g transform="translate(-382.2,-181.8)">
<polyline points="388.4,288.12 393.8,288.12 399.2,288.12 404.6,288.12 410,288.12 415.4,287.88 420.8,284.99 426.2,268.12 431.6,209.83 437,197.07 442.4,189.84 447.8,187.43 453.2,186.95 458.6,188.15 464,193.93 469.4,192.25 474.8,191.04 480.2,209.11 485.6,268.12 491,282.09 496.4,284.26 501.8,284.99 507.2,287.39 512.6,288.12" fill="none" stroke="#F8766D" stroke-width="1.45" stroke-linejoin="round"/>
<polyline points="388.4,288.12 393.8,288.12 399.2,288.12 404.6,288.12 410,288.12 415.4,288.12 420.8,288.12 426.2,285.71 431.6,275.35 437,207.91 442.4,197.07 447.8,198.27 453.2,205.5 458.6,275.35 464,265.72 469.4,242.83 474.8,248.85 480.2,280.17 485.6,287.39 491,288.12 496.4,288.12 501.8,288.12 507.2,288.12 512.6,288.12" fill="none" stroke="#00BFC4" stroke-width="1.55" stroke-dasharray="2.8 2.6" stroke-linejoin="round"/>
</g></svg>
<line x1="388.4" y1="292.9" x2="388.4" y2="295.3" stroke="#333333" stroke-width="0.9"/>
<text x="388.4" y="305.42" class="t" font-size="7.6" fill="#383838" color="#383838" text-anchor="middle">0</text>
<line x1="415.4" y1="292.9" x2="415.4" y2="295.3" stroke="#333333" stroke-width="0.9"/>
<text x="415.4" y="305.42" class="t" font-size="7.6" fill="#383838" color="#383838" text-anchor="middle">5</text>
<line x1="442.4" y1="292.9" x2="442.4" y2="295.3" stroke="#333333" stroke-width="0.9"/>
<text x="442.4" y="305.42" class="t" font-size="7.6" fill="#383838" color="#383838" text-anchor="middle">10</text>
<line x1="469.4" y1="292.9" x2="469.4" y2="295.3" stroke="#333333" stroke-width="0.9"/>
<text x="469.4" y="305.42" class="t" font-size="7.6" fill="#383838" color="#383838" text-anchor="middle">15</text>
<line x1="496.4" y1="292.9" x2="496.4" y2="295.3" stroke="#333333" stroke-width="0.9"/>
<text x="496.4" y="305.42" class="t" font-size="7.6" fill="#383838" color="#383838" text-anchor="middle">20</text>
<line x1="379.8" y1="197.79" x2="382.2" y2="197.79" stroke="#333333" stroke-width="0.9"/>
<text x="375.6" y="200.51" class="t" font-size="7.6" fill="#383838" color="#383838" text-anchor="end">3</text>
<line x1="379.8" y1="227.9" x2="382.2" y2="227.9" stroke="#333333" stroke-width="0.9"/>
<text x="375.6" y="230.62" class="t" font-size="7.6" fill="#383838" color="#383838" text-anchor="end">2</text>
<line x1="379.8" y1="258.01" x2="382.2" y2="258.01" stroke="#333333" stroke-width="0.9"/>
<text x="375.6" y="260.73" class="t" font-size="7.6" fill="#383838" color="#383838" text-anchor="end">1</text>
<line x1="379.8" y1="288.12" x2="382.2" y2="288.12" stroke="#333333" stroke-width="0.9"/>
<text x="375.6" y="290.84" class="t" font-size="7.6" fill="#383838" color="#383838" text-anchor="end">0</text>
<rect x="547" y="168.2" width="136.6" height="13.6" fill="#D9D9D9"/>
<text x="615.3" y="177.58" class="s" font-size="7.2" fill="#1A1A1A" color="#1A1A1A" text-anchor="middle">Library</text>
<rect x="547" y="181.8" width="136.6" height="111.1" fill="#EBEBEB"/>
<line x1="566.7" y1="181.8" x2="566.7" y2="292.9" stroke="#fff" stroke-width="0.5"/>
<line x1="593.7" y1="181.8" x2="593.7" y2="292.9" stroke="#fff" stroke-width="0.5"/>
<line x1="620.7" y1="181.8" x2="620.7" y2="292.9" stroke="#fff" stroke-width="0.5"/>
<line x1="647.7" y1="181.8" x2="647.7" y2="292.9" stroke="#fff" stroke-width="0.5"/>
<line x1="674.7" y1="181.8" x2="674.7" y2="292.9" stroke="#fff" stroke-width="0.5"/>
<line x1="547" y1="201.4" x2="683.6" y2="201.4" stroke="#fff" stroke-width="0.5"/>
<line x1="547" y1="231.27" x2="683.6" y2="231.27" stroke="#fff" stroke-width="0.5"/>
<line x1="547" y1="261.26" x2="683.6" y2="261.26" stroke="#fff" stroke-width="0.5"/>
<line x1="547" y1="291.37" x2="683.6" y2="291.37" stroke="#fff" stroke-width="0.5"/>
<line x1="553.2" y1="181.8" x2="553.2" y2="292.9" stroke="#fff" stroke-width="1.0"/>
<line x1="580.2" y1="181.8" x2="580.2" y2="292.9" stroke="#fff" stroke-width="1.0"/>
<line x1="607.2" y1="181.8" x2="607.2" y2="292.9" stroke="#fff" stroke-width="1.0"/>
<line x1="634.2" y1="181.8" x2="634.2" y2="292.9" stroke="#fff" stroke-width="1.0"/>
<line x1="661.2" y1="181.8" x2="661.2" y2="292.9" stroke="#fff" stroke-width="1.0"/>
<line x1="547" y1="186.47" x2="683.6" y2="186.47" stroke="#fff" stroke-width="1.0"/>
<line x1="547" y1="216.34" x2="683.6" y2="216.34" stroke="#fff" stroke-width="1.0"/>
<line x1="547" y1="246.2" x2="683.6" y2="246.2" stroke="#fff" stroke-width="1.0"/>
<line x1="547" y1="276.31" x2="683.6" y2="276.31" stroke="#fff" stroke-width="1.0"/>
<svg x="547" y="181.8" width="136.6" height="111.1" overflow="hidden"><g transform="translate(-547,-181.8)">
<polyline points="553.2,264.99 558.6,266.92 564,268.85 569.4,271.01 574.8,272.94 580.2,275.35 585.6,288.12 591,286.91 596.4,250.06 601.8,212.72 607.2,207.91 612.6,203.09 618,197.79 623.4,192.25 628.8,187.43 634.2,187.91 639.6,190.56 645,201.16 650.4,236.09 655.8,237.29 661.2,242.11 666.6,247.65 672,250.78 677.4,250.78" fill="none" stroke="#F8766D" stroke-width="1.45" stroke-linejoin="round"/>
<polyline points="553.2,273.42 558.6,274.87 564,276.07 569.4,276.55 574.8,276.8 580.2,277.28 585.6,277.76 591,282.09 596.4,272.94 601.8,262.82 607.2,259.21 612.6,258.01 618,257.28 623.4,255.12 628.8,253.67 634.2,253.67 639.6,252.71 645,249.09 650.4,248.85 655.8,250.06 661.2,252.47 666.6,255.6 672,256.08 677.4,257.28" fill="none" stroke="#00BFC4" stroke-width="1.55" stroke-dasharray="2.8 2.6" stroke-linejoin="round"/>
</g></svg>
<line x1="553.2" y1="292.9" x2="553.2" y2="295.3" stroke="#333333" stroke-width="0.9"/>
<text x="553.2" y="305.42" class="t" font-size="7.6" fill="#383838" color="#383838" text-anchor="middle">0</text>
<line x1="580.2" y1="292.9" x2="580.2" y2="295.3" stroke="#333333" stroke-width="0.9"/>
<text x="580.2" y="305.42" class="t" font-size="7.6" fill="#383838" color="#383838" text-anchor="middle">5</text>
<line x1="607.2" y1="292.9" x2="607.2" y2="295.3" stroke="#333333" stroke-width="0.9"/>
<text x="607.2" y="305.42" class="t" font-size="7.6" fill="#383838" color="#383838" text-anchor="middle">10</text>
<line x1="634.2" y1="292.9" x2="634.2" y2="295.3" stroke="#333333" stroke-width="0.9"/>
<text x="634.2" y="305.42" class="t" font-size="7.6" fill="#383838" color="#383838" text-anchor="middle">15</text>
<line x1="661.2" y1="292.9" x2="661.2" y2="295.3" stroke="#333333" stroke-width="0.9"/>
<text x="661.2" y="305.42" class="t" font-size="7.6" fill="#383838" color="#383838" text-anchor="middle">20</text>
<line x1="544.6" y1="186.47" x2="547" y2="186.47" stroke="#333333" stroke-width="0.9"/>
<text x="541" y="189.19" class="t" font-size="7.6" fill="#383838" color="#383838" text-anchor="end">20</text>
<line x1="544.6" y1="216.34" x2="547" y2="216.34" stroke="#333333" stroke-width="0.9"/>
<text x="541" y="219.06" class="t" font-size="7.6" fill="#383838" color="#383838" text-anchor="end">15</text>
<line x1="544.6" y1="246.2" x2="547" y2="246.2" stroke="#333333" stroke-width="0.9"/>
<text x="541" y="248.93" class="t" font-size="7.6" fill="#383838" color="#383838" text-anchor="end">10</text>
<line x1="544.6" y1="276.31" x2="547" y2="276.31" stroke="#333333" stroke-width="0.9"/>
<text x="541" y="279.03" class="t" font-size="7.6" fill="#383838" color="#383838" text-anchor="end">5</text>
<rect x="43.9" y="312.8" width="136.6" height="13.6" fill="#D9D9D9"/>
<text x="112.2" y="322.18" class="s" font-size="7.2" fill="#1A1A1A" color="#1A1A1A" text-anchor="middle">Dining</text>
<rect x="43.9" y="326.4" width="136.6" height="111.1" fill="#EBEBEB"/>
<line x1="63.6" y1="326.4" x2="63.6" y2="437.5" stroke="#fff" stroke-width="0.5"/>
<line x1="90.6" y1="326.4" x2="90.6" y2="437.5" stroke="#fff" stroke-width="0.5"/>
<line x1="117.6" y1="326.4" x2="117.6" y2="437.5" stroke="#fff" stroke-width="0.5"/>
<line x1="144.6" y1="326.4" x2="144.6" y2="437.5" stroke="#fff" stroke-width="0.5"/>
<line x1="171.6" y1="326.4" x2="171.6" y2="437.5" stroke="#fff" stroke-width="0.5"/>
<line x1="43.9" y1="365.31" x2="180.5" y2="365.31" stroke="#fff" stroke-width="0.5"/>
<line x1="43.9" y1="398.31" x2="180.5" y2="398.31" stroke="#fff" stroke-width="0.5"/>
<line x1="43.9" y1="332.31" x2="180.5" y2="332.31" stroke="#fff" stroke-width="0.5"/>
<line x1="43.9" y1="431.31" x2="180.5" y2="431.31" stroke="#fff" stroke-width="0.5"/>
<line x1="50.1" y1="326.4" x2="50.1" y2="437.5" stroke="#fff" stroke-width="1.0"/>
<line x1="77.1" y1="326.4" x2="77.1" y2="437.5" stroke="#fff" stroke-width="1.0"/>
<line x1="104.1" y1="326.4" x2="104.1" y2="437.5" stroke="#fff" stroke-width="1.0"/>
<line x1="131.1" y1="326.4" x2="131.1" y2="437.5" stroke="#fff" stroke-width="1.0"/>
<line x1="158.1" y1="326.4" x2="158.1" y2="437.5" stroke="#fff" stroke-width="1.0"/>
<line x1="43.9" y1="348.81" x2="180.5" y2="348.81" stroke="#fff" stroke-width="1.0"/>
<line x1="43.9" y1="381.81" x2="180.5" y2="381.81" stroke="#fff" stroke-width="1.0"/>
<line x1="43.9" y1="414.81" x2="180.5" y2="414.81" stroke="#fff" stroke-width="1.0"/>
<svg x="43.9" y="326.4" width="136.6" height="111.1" overflow="hidden"><g transform="translate(-43.9,-326.4)">
<polyline points="50.1,395.54 55.5,400.6 60.9,405.9 66.3,411.2 71.7,414.33 77.1,418.42 82.5,422.28 87.9,423.48 93.3,393.85 98.7,364.95 104.1,361.34 109.5,355.31 114.9,343.27 120.3,331.71 125.7,344.47 131.1,357.72 136.5,360.85 141.9,357.72 147.3,346.88 152.7,338.93 158.1,354.11 163.5,363.74 168.9,381.09 174.3,389.52" fill="none" stroke="#F8766D" stroke-width="1.45" stroke-linejoin="round"/>
<polyline points="50.1,408.79 55.5,419.15 60.9,424.69 66.3,429.5 71.7,431.67 77.1,429.26 82.5,421.55 87.9,432.88 93.3,418.66 98.7,408.31 104.1,414.33 109.5,406.38 114.9,408.31 120.3,416.26 125.7,416.74 131.1,417.94 136.5,422.28 141.9,405.9 147.3,387.83 152.7,386.63 158.1,384.22 163.5,387.11 168.9,396.26 174.3,398.67" fill="none" stroke="#00BFC4" stroke-width="1.55" stroke-dasharray="2.8 2.6" stroke-linejoin="round"/>
</g></svg>
<line x1="50.1" y1="437.5" x2="50.1" y2="439.9" stroke="#333333" stroke-width="0.9"/>
<text x="50.1" y="450.02" class="t" font-size="7.6" fill="#383838" color="#383838" text-anchor="middle">0</text>
<line x1="77.1" y1="437.5" x2="77.1" y2="439.9" stroke="#333333" stroke-width="0.9"/>
<text x="77.1" y="450.02" class="t" font-size="7.6" fill="#383838" color="#383838" text-anchor="middle">5</text>
<line x1="104.1" y1="437.5" x2="104.1" y2="439.9" stroke="#333333" stroke-width="0.9"/>
<text x="104.1" y="450.02" class="t" font-size="7.6" fill="#383838" color="#383838" text-anchor="middle">10</text>
<line x1="131.1" y1="437.5" x2="131.1" y2="439.9" stroke="#333333" stroke-width="0.9"/>
<text x="131.1" y="450.02" class="t" font-size="7.6" fill="#383838" color="#383838" text-anchor="middle">15</text>
<line x1="158.1" y1="437.5" x2="158.1" y2="439.9" stroke="#333333" stroke-width="0.9"/>
<text x="158.1" y="450.02" class="t" font-size="7.6" fill="#383838" color="#383838" text-anchor="middle">20</text>
<line x1="41.5" y1="348.81" x2="43.9" y2="348.81" stroke="#333333" stroke-width="0.9"/>
<text x="38.3" y="351.53" class="t" font-size="7.6" fill="#383838" color="#383838" text-anchor="end">40</text>
<line x1="41.5" y1="381.81" x2="43.9" y2="381.81" stroke="#333333" stroke-width="0.9"/>
<text x="38.3" y="384.53" class="t" font-size="7.6" fill="#383838" color="#383838" text-anchor="end">30</text>
<line x1="41.5" y1="414.81" x2="43.9" y2="414.81" stroke="#333333" stroke-width="0.9"/>
<text x="38.3" y="417.53" class="t" font-size="7.6" fill="#383838" color="#383838" text-anchor="end">20</text>
<rect x="211.9" y="312.8" width="136.6" height="13.6" fill="#D9D9D9"/>
<text x="280.2" y="322.18" class="s" font-size="7.2" fill="#1A1A1A" color="#1A1A1A" text-anchor="middle">Transformer_1</text>
<rect x="211.9" y="326.4" width="136.6" height="111.1" fill="#EBEBEB"/>
<line x1="231.6" y1="326.4" x2="231.6" y2="437.5" stroke="#fff" stroke-width="0.5"/>
<line x1="258.6" y1="326.4" x2="258.6" y2="437.5" stroke="#fff" stroke-width="0.5"/>
<line x1="285.6" y1="326.4" x2="285.6" y2="437.5" stroke="#fff" stroke-width="0.5"/>
<line x1="312.6" y1="326.4" x2="312.6" y2="437.5" stroke="#fff" stroke-width="0.5"/>
<line x1="339.6" y1="326.4" x2="339.6" y2="437.5" stroke="#fff" stroke-width="0.5"/>
<line x1="211.9" y1="346.52" x2="348.5" y2="346.52" stroke="#fff" stroke-width="0.5"/>
<line x1="211.9" y1="374.58" x2="348.5" y2="374.58" stroke="#fff" stroke-width="0.5"/>
<line x1="211.9" y1="402.65" x2="348.5" y2="402.65" stroke="#fff" stroke-width="0.5"/>
<line x1="211.9" y1="430.83" x2="348.5" y2="430.83" stroke="#fff" stroke-width="0.5"/>
<line x1="218.1" y1="326.4" x2="218.1" y2="437.5" stroke="#fff" stroke-width="1.0"/>
<line x1="245.1" y1="326.4" x2="245.1" y2="437.5" stroke="#fff" stroke-width="1.0"/>
<line x1="272.1" y1="326.4" x2="272.1" y2="437.5" stroke="#fff" stroke-width="1.0"/>
<line x1="299.1" y1="326.4" x2="299.1" y2="437.5" stroke="#fff" stroke-width="1.0"/>
<line x1="326.1" y1="326.4" x2="326.1" y2="437.5" stroke="#fff" stroke-width="1.0"/>
<line x1="211.9" y1="332.43" x2="348.5" y2="332.43" stroke="#fff" stroke-width="1.0"/>
<line x1="211.9" y1="360.61" x2="348.5" y2="360.61" stroke="#fff" stroke-width="1.0"/>
<line x1="211.9" y1="388.55" x2="348.5" y2="388.55" stroke="#fff" stroke-width="1.0"/>
<line x1="211.9" y1="416.74" x2="348.5" y2="416.74" stroke="#fff" stroke-width="1.0"/>
<svg x="211.9" y="326.4" width="136.6" height="111.1" overflow="hidden"><g transform="translate(-211.9,-326.4)">
<polyline points="218.1,409.99 223.5,411.2 228.9,412.64 234.3,414.33 239.7,415.05 245.1,416.01 250.5,428.78 255.9,416.74 261.3,354.83 266.7,341.58 272.1,341.58 277.5,340.38 282.9,335.32 288.3,331.71 293.7,336.53 299.1,340.38 304.5,341.34 309.9,343.75 315.3,389.52 320.7,401.56 326.1,401.56 331.5,393.85 336.9,396.26 342.3,408.79" fill="none" stroke="#F8766D" stroke-width="1.45" stroke-linejoin="round"/>
<polyline points="218.1,422.76 223.5,425.65 228.9,427.58 234.3,428.78 239.7,429.99 245.1,431.91 250.5,429.99 255.9,432.88 261.3,429.99 266.7,425.17 272.1,425.17 277.5,423.96 282.9,424.69 288.3,427.09 293.7,427.58 299.1,427.58 304.5,428.06 309.9,426.37 315.3,421.55 320.7,420.83 326.1,419.15 331.5,418.42 336.9,420.83 342.3,421.55" fill="none" stroke="#00BFC4" stroke-width="1.55" stroke-dasharray="2.8 2.6" stroke-linejoin="round"/>
</g></svg>
<line x1="218.1" y1="437.5" x2="218.1" y2="439.9" stroke="#333333" stroke-width="0.9"/>
<text x="218.1" y="450.02" class="t" font-size="7.6" fill="#383838" color="#383838" text-anchor="middle">0</text>
<line x1="245.1" y1="437.5" x2="245.1" y2="439.9" stroke="#333333" stroke-width="0.9"/>
<text x="245.1" y="450.02" class="t" font-size="7.6" fill="#383838" color="#383838" text-anchor="middle">5</text>
<line x1="272.1" y1="437.5" x2="272.1" y2="439.9" stroke="#333333" stroke-width="0.9"/>
<text x="272.1" y="450.02" class="t" font-size="7.6" fill="#383838" color="#383838" text-anchor="middle">10</text>
<line x1="299.1" y1="437.5" x2="299.1" y2="439.9" stroke="#333333" stroke-width="0.9"/>
<text x="299.1" y="450.02" class="t" font-size="7.6" fill="#383838" color="#383838" text-anchor="middle">15</text>
<line x1="326.1" y1="437.5" x2="326.1" y2="439.9" stroke="#333333" stroke-width="0.9"/>
<text x="326.1" y="450.02" class="t" font-size="7.6" fill="#383838" color="#383838" text-anchor="middle">20</text>
<line x1="209.5" y1="332.43" x2="211.9" y2="332.43" stroke="#333333" stroke-width="0.9"/>
<text x="205.7" y="335.15" class="t" font-size="7.6" fill="#383838" color="#383838" text-anchor="end">160</text>
<line x1="209.5" y1="360.61" x2="211.9" y2="360.61" stroke="#333333" stroke-width="0.9"/>
<text x="205.7" y="363.33" class="t" font-size="7.6" fill="#383838" color="#383838" text-anchor="end">120</text>
<line x1="209.5" y1="388.55" x2="211.9" y2="388.55" stroke="#333333" stroke-width="0.9"/>
<text x="205.7" y="391.28" class="t" font-size="7.6" fill="#383838" color="#383838" text-anchor="end">80</text>
<line x1="209.5" y1="416.74" x2="211.9" y2="416.74" stroke="#333333" stroke-width="0.9"/>
<text x="205.7" y="419.46" class="t" font-size="7.6" fill="#383838" color="#383838" text-anchor="end">40</text>
<rect x="382.2" y="312.8" width="136.6" height="13.6" fill="#D9D9D9"/>
<text x="450.5" y="322.18" class="s" font-size="7.2" fill="#1A1A1A" color="#1A1A1A" text-anchor="middle">Transformer_2</text>
<rect x="382.2" y="326.4" width="136.6" height="111.1" fill="#EBEBEB"/>
<line x1="401.9" y1="326.4" x2="401.9" y2="437.5" stroke="#fff" stroke-width="0.5"/>
<line x1="428.9" y1="326.4" x2="428.9" y2="437.5" stroke="#fff" stroke-width="0.5"/>
<line x1="455.9" y1="326.4" x2="455.9" y2="437.5" stroke="#fff" stroke-width="0.5"/>
<line x1="482.9" y1="326.4" x2="482.9" y2="437.5" stroke="#fff" stroke-width="0.5"/>
<line x1="509.9" y1="326.4" x2="509.9" y2="437.5" stroke="#fff" stroke-width="0.5"/>
<line x1="382.2" y1="367.72" x2="518.8" y2="367.72" stroke="#fff" stroke-width="0.5"/>
<line x1="382.2" y1="397.47" x2="518.8" y2="397.47" stroke="#fff" stroke-width="0.5"/>
<line x1="382.2" y1="338.09" x2="518.8" y2="338.09" stroke="#fff" stroke-width="0.5"/>
<line x1="382.2" y1="427.34" x2="518.8" y2="427.34" stroke="#fff" stroke-width="0.5"/>
<line x1="388.4" y1="326.4" x2="388.4" y2="437.5" stroke="#fff" stroke-width="1.0"/>
<line x1="415.4" y1="326.4" x2="415.4" y2="437.5" stroke="#fff" stroke-width="1.0"/>
<line x1="442.4" y1="326.4" x2="442.4" y2="437.5" stroke="#fff" stroke-width="1.0"/>
<line x1="469.4" y1="326.4" x2="469.4" y2="437.5" stroke="#fff" stroke-width="1.0"/>
<line x1="496.4" y1="326.4" x2="496.4" y2="437.5" stroke="#fff" stroke-width="1.0"/>
<line x1="382.2" y1="352.91" x2="518.8" y2="352.91" stroke="#fff" stroke-width="1.0"/>
<line x1="382.2" y1="382.53" x2="518.8" y2="382.53" stroke="#fff" stroke-width="1.0"/>
<line x1="382.2" y1="412.4" x2="518.8" y2="412.4" stroke="#fff" stroke-width="1.0"/>
<svg x="382.2" y="326.4" width="136.6" height="111.1" overflow="hidden"><g transform="translate(-382.2,-326.4)">
<polyline points="388.4,333.64 393.8,338.45 399.2,340.38 404.6,344.47 410,346.88 415.4,350.5 420.8,428.06 426.2,427.58 431.6,401.08 437,366.88 442.4,373.38 447.8,381.33 453.2,360.85 458.6,357.24 464,362.06 469.4,367.84 474.8,378.92 480.2,387.83 485.6,378.2 491,367.36 496.4,340.86 501.8,331.71 507.2,334.36 512.6,331.71" fill="none" stroke="#F8766D" stroke-width="1.45" stroke-linejoin="round"/>
<polyline points="388.4,337.97 393.8,338.45 399.2,349.29 404.6,352.91 410,366.15 415.4,419.15 420.8,429.99 426.2,432.39 431.6,409.51 437,353.63 442.4,354.11 447.8,357.24 453.2,358.93 458.6,412.64 464,396.26 469.4,381.33 474.8,385.42 480.2,413.12 485.6,415.05 491,417.94 496.4,385.42 501.8,342.07 507.2,338.93 512.6,334.84" fill="none" stroke="#00BFC4" stroke-width="1.55" stroke-dasharray="2.8 2.6" stroke-linejoin="round"/>
</g></svg>
<line x1="388.4" y1="437.5" x2="388.4" y2="439.9" stroke="#333333" stroke-width="0.9"/>
<text x="388.4" y="450.02" class="t" font-size="7.6" fill="#383838" color="#383838" text-anchor="middle">0</text>
<line x1="415.4" y1="437.5" x2="415.4" y2="439.9" stroke="#333333" stroke-width="0.9"/>
<text x="415.4" y="450.02" class="t" font-size="7.6" fill="#383838" color="#383838" text-anchor="middle">5</text>
<line x1="442.4" y1="437.5" x2="442.4" y2="439.9" stroke="#333333" stroke-width="0.9"/>
<text x="442.4" y="450.02" class="t" font-size="7.6" fill="#383838" color="#383838" text-anchor="middle">10</text>
<line x1="469.4" y1="437.5" x2="469.4" y2="439.9" stroke="#333333" stroke-width="0.9"/>
<text x="469.4" y="450.02" class="t" font-size="7.6" fill="#383838" color="#383838" text-anchor="middle">15</text>
<line x1="496.4" y1="437.5" x2="496.4" y2="439.9" stroke="#333333" stroke-width="0.9"/>
<text x="496.4" y="450.02" class="t" font-size="7.6" fill="#383838" color="#383838" text-anchor="middle">20</text>
<line x1="379.8" y1="352.91" x2="382.2" y2="352.91" stroke="#333333" stroke-width="0.9"/>
<text x="375.6" y="355.63" class="t" font-size="7.6" fill="#383838" color="#383838" text-anchor="end">200</text>
<line x1="379.8" y1="382.53" x2="382.2" y2="382.53" stroke="#333333" stroke-width="0.9"/>
<text x="375.6" y="385.25" class="t" font-size="7.6" fill="#383838" color="#383838" text-anchor="end">150</text>
<line x1="379.8" y1="412.4" x2="382.2" y2="412.4" stroke="#333333" stroke-width="0.9"/>
<text x="375.6" y="415.12" class="t" font-size="7.6" fill="#383838" color="#383838" text-anchor="end">100</text>
<rect x="547" y="312.8" width="136.6" height="13.6" fill="#D9D9D9"/>
<text x="615.3" y="322.18" class="s" font-size="7.2" fill="#1A1A1A" color="#1A1A1A" text-anchor="middle">Transformer_3</text>
<rect x="547" y="326.4" width="136.6" height="111.1" fill="#EBEBEB"/>
<line x1="566.7" y1="326.4" x2="566.7" y2="437.5" stroke="#fff" stroke-width="0.5"/>
<line x1="593.7" y1="326.4" x2="593.7" y2="437.5" stroke="#fff" stroke-width="0.5"/>
<line x1="620.7" y1="326.4" x2="620.7" y2="437.5" stroke="#fff" stroke-width="0.5"/>
<line x1="647.7" y1="326.4" x2="647.7" y2="437.5" stroke="#fff" stroke-width="0.5"/>
<line x1="674.7" y1="326.4" x2="674.7" y2="437.5" stroke="#fff" stroke-width="0.5"/>
<line x1="547" y1="348.09" x2="683.6" y2="348.09" stroke="#fff" stroke-width="0.5"/>
<line x1="547" y1="383.26" x2="683.6" y2="383.26" stroke="#fff" stroke-width="0.5"/>
<line x1="547" y1="418.42" x2="683.6" y2="418.42" stroke="#fff" stroke-width="0.5"/>
<line x1="553.2" y1="326.4" x2="553.2" y2="437.5" stroke="#fff" stroke-width="1.0"/>
<line x1="580.2" y1="326.4" x2="580.2" y2="437.5" stroke="#fff" stroke-width="1.0"/>
<line x1="607.2" y1="326.4" x2="607.2" y2="437.5" stroke="#fff" stroke-width="1.0"/>
<line x1="634.2" y1="326.4" x2="634.2" y2="437.5" stroke="#fff" stroke-width="1.0"/>
<line x1="661.2" y1="326.4" x2="661.2" y2="437.5" stroke="#fff" stroke-width="1.0"/>
<line x1="547" y1="330.5" x2="683.6" y2="330.5" stroke="#fff" stroke-width="1.0"/>
<line x1="547" y1="365.67" x2="683.6" y2="365.67" stroke="#fff" stroke-width="1.0"/>
<line x1="547" y1="400.84" x2="683.6" y2="400.84" stroke="#fff" stroke-width="1.0"/>
<line x1="547" y1="436.01" x2="683.6" y2="436.01" stroke="#fff" stroke-width="1.0"/>
<svg x="547" y="326.4" width="136.6" height="111.1" overflow="hidden"><g transform="translate(-547,-326.4)">
<polyline points="553.2,346.16 558.6,356.52 564,372.18 569.4,384.7 574.8,390.24 580.2,397.47 585.6,416.74 591,405.18 596.4,411.92 601.8,419.15 607.2,419.87 612.6,413.12 618,409.51 623.4,410.72 628.8,403.97 634.2,408.31 639.6,406.38 645,413.12 650.4,401.08 655.8,362.54 661.2,350.5 666.6,343.27 672,332.67 677.4,331.95" fill="none" stroke="#F8766D" stroke-width="1.45" stroke-linejoin="round"/>
<polyline points="553.2,372.18 558.6,387.83 564,401.08 569.4,411.92 574.8,422.76 580.2,433.6 585.6,429.99 591,419.15 596.4,409.51 601.8,403.97 607.2,414.33 612.6,415.05 618,409.51 623.4,419.87 628.8,421.55 634.2,423.24 639.6,426.37 645,415.53 650.4,374.58 655.8,364.47 661.2,364.95 666.6,352.91 672,346.88 677.4,354.11" fill="none" stroke="#00BFC4" stroke-width="1.55" stroke-dasharray="2.8 2.6" stroke-linejoin="round"/>
</g></svg>
<line x1="553.2" y1="437.5" x2="553.2" y2="439.9" stroke="#333333" stroke-width="0.9"/>
<text x="553.2" y="450.02" class="t" font-size="7.6" fill="#383838" color="#383838" text-anchor="middle">0</text>
<line x1="580.2" y1="437.5" x2="580.2" y2="439.9" stroke="#333333" stroke-width="0.9"/>
<text x="580.2" y="450.02" class="t" font-size="7.6" fill="#383838" color="#383838" text-anchor="middle">5</text>
<line x1="607.2" y1="437.5" x2="607.2" y2="439.9" stroke="#333333" stroke-width="0.9"/>
<text x="607.2" y="450.02" class="t" font-size="7.6" fill="#383838" color="#383838" text-anchor="middle">10</text>
<line x1="634.2" y1="437.5" x2="634.2" y2="439.9" stroke="#333333" stroke-width="0.9"/>
<text x="634.2" y="450.02" class="t" font-size="7.6" fill="#383838" color="#383838" text-anchor="middle">15</text>
<line x1="661.2" y1="437.5" x2="661.2" y2="439.9" stroke="#333333" stroke-width="0.9"/>
<text x="661.2" y="450.02" class="t" font-size="7.6" fill="#383838" color="#383838" text-anchor="middle">20</text>
<line x1="544.6" y1="330.5" x2="547" y2="330.5" stroke="#333333" stroke-width="0.9"/>
<text x="541" y="333.22" class="t" font-size="7.6" fill="#383838" color="#383838" text-anchor="end">120</text>
<line x1="544.6" y1="365.67" x2="547" y2="365.67" stroke="#333333" stroke-width="0.9"/>
<text x="541" y="368.39" class="t" font-size="7.6" fill="#383838" color="#383838" text-anchor="end">100</text>
<line x1="544.6" y1="400.84" x2="547" y2="400.84" stroke="#333333" stroke-width="0.9"/>
<text x="541" y="403.56" class="t" font-size="7.6" fill="#383838" color="#383838" text-anchor="end">80</text>
<line x1="544.6" y1="436.01" x2="547" y2="436.01" stroke="#333333" stroke-width="0.9"/>
<text x="541" y="438.73" class="t" font-size="7.6" fill="#383838" color="#383838" text-anchor="end">60</text>
<text x="364.5" y="463.99" font-size="8.9" fill="#000" color="#000" text-anchor="middle">Day hour</text>
<text transform="translate(19.69,237.3) rotate(-90)" font-size="8.9" fill="#000" color="#000" text-anchor="middle">Power(kW)</text>
<text x="304" y="10.59" font-size="8.9" fill="#000" color="#000">Month</text>
<rect x="332" y="1" width="13.2" height="12.8" fill="#F2F2F2"/>
<line x1="333.2" y1="7.2" x2="344.2" y2="7.2" stroke="#F8766D" stroke-width="1.1"/>
<text x="348" y="9.98" font-size="7.2" fill="#000" color="#000">August</text>
<rect x="372.2" y="1" width="12.8" height="12.8" fill="#F2F2F2"/>
<line x1="372.8" y1="7.2" x2="384.5" y2="7.2" stroke="#00BFC4" stroke-width="1.2" stroke-dasharray="3 3.2"/>
<text x="387.6" y="9.98" font-size="7.2" fill="#000" color="#000">January</text>
<rect x="45.2" y="478.4" width="128.3" height="13.3" fill="#D9D9D9"/>
<text x="109.35" y="487.45" class="s" font-size="6.7" fill="#1A1A1A" color="#1A1A1A" text-anchor="middle">Academic</text>
<rect x="45.2" y="491.7" width="128.3" height="112.8" fill="#EBEBEB"/>
<line x1="72.09" y1="491.7" x2="72.09" y2="604.5" stroke="#fff" stroke-width="0.5"/>
<line x1="113.4" y1="491.7" x2="113.4" y2="604.5" stroke="#fff" stroke-width="0.5"/>
<line x1="155.07" y1="491.7" x2="155.07" y2="604.5" stroke="#fff" stroke-width="0.5"/>
<line x1="45.2" y1="530.83" x2="173.5" y2="530.83" stroke="#fff" stroke-width="0.5"/>
<line x1="45.2" y1="558.53" x2="173.5" y2="558.53" stroke="#fff" stroke-width="0.5"/>
<line x1="45.2" y1="586.23" x2="173.5" y2="586.23" stroke="#fff" stroke-width="0.5"/>
<line x1="45.2" y1="503.13" x2="173.5" y2="503.13" stroke="#fff" stroke-width="0.5"/>
<line x1="51.61" y1="491.7" x2="51.61" y2="604.5" stroke="#fff" stroke-width="1.0"/>
<line x1="92.56" y1="491.7" x2="92.56" y2="604.5" stroke="#fff" stroke-width="1.0"/>
<line x1="134.23" y1="491.7" x2="134.23" y2="604.5" stroke="#fff" stroke-width="1.0"/>
<line x1="45.2" y1="516.98" x2="173.5" y2="516.98" stroke="#fff" stroke-width="1.0"/>
<line x1="45.2" y1="544.68" x2="173.5" y2="544.68" stroke="#fff" stroke-width="1.0"/>
<line x1="45.2" y1="572.38" x2="173.5" y2="572.38" stroke="#fff" stroke-width="1.0"/>
<line x1="45.2" y1="600.08" x2="173.5" y2="600.08" stroke="#fff" stroke-width="1.0"/>
<path d="M50.65 600.08V594.06H52.58V600.08ZM63.05 600.08V598.72H65.12V600.08ZM65.12 600.08V588.44H67.19V600.08ZM67.19 600.08V582.61H69.25V600.08ZM69.25 600.08V581.46H71.32V600.08ZM71.32 600.08V580.31H73.39V600.08ZM73.39 600.08V578.63H75.46V600.08ZM75.46 600.08V576.22H77.52V600.08ZM77.52 600.08V569.6H79.59V600.08ZM79.59 600.08V554H81.66V600.08ZM81.66 600.08V533.58H83.72V600.08ZM83.72 600.08V516.51H85.79V600.08ZM85.79 600.08V506.3H87.86V600.08ZM87.86 600.08V502.16H89.92V600.08ZM89.92 600.08V499.67H91.99V600.08ZM91.99 600.08V498.27H94.06V600.08ZM94.06 600.08V498.61H96.12V600.08ZM96.12 600.08V501.4H98.19V600.08ZM98.19 600.08V506.46H100.26V600.08ZM100.26 600.08V514.14H102.32V600.08ZM102.32 600.08V523.63H104.39V600.08ZM104.39 600.08V533.25H106.46V600.08ZM106.46 600.08V542.13H108.52V600.08ZM108.52 600.08V550.51H110.59V600.08ZM110.59 600.08V557.92H112.66V600.08ZM112.66 600.08V563.81H114.72V600.08ZM114.72 600.08V568.53H116.79V600.08ZM116.79 600.08V572.28H118.86V600.08ZM118.86 600.08V575.39H120.92V600.08ZM120.92 600.08V578.1H122.99V600.08ZM122.99 600.08V579.59H125.06V600.08ZM125.06 600.08V580.94H127.12V600.08ZM127.12 600.08V581.99H129.19V600.08ZM129.19 600.08V582.82H131.26V600.08ZM131.26 600.08V583.65H133.32V600.08ZM133.32 600.08V583.99H135.39V600.08ZM135.39 600.08V584.06H137.46V600.08ZM137.46 600.08V584.14H139.52V600.08ZM139.52 600.08V584.06H141.59V600.08ZM141.59 600.08V583.74H143.66V600.08ZM143.66 600.08V583.41H145.72V600.08ZM145.72 600.08V583.09H147.79V600.08ZM147.79 600.08V582.71H149.86V600.08ZM149.86 600.08V582.3H151.92V600.08ZM151.92 600.08V581.88H153.99V600.08ZM153.99 600.08V581.57H156.06V600.08ZM156.06 600.08V581.85H158.12V600.08ZM158.12 600.08V582.13H160.19V600.08ZM160.19 600.08V582.4H162.26V600.08ZM162.26 600.08V583.1H164.32V600.08ZM164.32 600.08V583.99H166.27V600.08ZM166.27 600.08V594.06H167.96V600.08Z" fill="#595959"/>
<line x1="51.61" y1="604.5" x2="51.61" y2="606.8" stroke="#333333" stroke-width="0.9"/>
<text x="51.61" y="617.04" class="t" font-size="7.1" fill="#383838" color="#383838" text-anchor="middle">0</text>
<line x1="92.56" y1="604.5" x2="92.56" y2="606.8" stroke="#333333" stroke-width="0.9"/>
<text x="92.56" y="617.04" class="t" font-size="7.1" fill="#383838" color="#383838" text-anchor="middle">20</text>
<line x1="134.23" y1="604.5" x2="134.23" y2="606.8" stroke="#333333" stroke-width="0.9"/>
<text x="134.23" y="617.04" class="t" font-size="7.1" fill="#383838" color="#383838" text-anchor="middle">40</text>
<line x1="42.9" y1="516.98" x2="45.2" y2="516.98" stroke="#333333" stroke-width="0.9"/>
<text x="39" y="519.52" class="t" font-size="7.1" fill="#383838" color="#383838" text-anchor="end">90000</text>
<line x1="42.9" y1="544.68" x2="45.2" y2="544.68" stroke="#333333" stroke-width="0.9"/>
<text x="39" y="547.22" class="t" font-size="7.1" fill="#383838" color="#383838" text-anchor="end">60000</text>
<line x1="42.9" y1="572.38" x2="45.2" y2="572.38" stroke="#333333" stroke-width="0.9"/>
<text x="39" y="574.92" class="t" font-size="7.1" fill="#383838" color="#383838" text-anchor="end">30000</text>
<line x1="42.9" y1="600.08" x2="45.2" y2="600.08" stroke="#333333" stroke-width="0.9"/>
<text x="39" y="602.62" class="t" font-size="7.1" fill="#383838" color="#383838" text-anchor="end">0</text>
<rect x="215.3" y="478.4" width="128.3" height="13.3" fill="#D9D9D9"/>
<text x="279.45" y="487.45" class="s" font-size="6.7" fill="#1A1A1A" color="#1A1A1A" text-anchor="middle">Boys_main</text>
<rect x="215.3" y="491.7" width="128.3" height="112.8" fill="#EBEBEB"/>
<line x1="238.23" y1="491.7" x2="238.23" y2="604.5" stroke="#fff" stroke-width="0.5"/>
<line x1="269.91" y1="491.7" x2="269.91" y2="604.5" stroke="#fff" stroke-width="0.5"/>
<line x1="301.58" y1="491.7" x2="301.58" y2="604.5" stroke="#fff" stroke-width="0.5"/>
<line x1="333.38" y1="491.7" x2="333.38" y2="604.5" stroke="#fff" stroke-width="0.5"/>
<line x1="215.3" y1="513.24" x2="343.6" y2="513.24" stroke="#fff" stroke-width="0.5"/>
<line x1="215.3" y1="538.05" x2="343.6" y2="538.05" stroke="#fff" stroke-width="0.5"/>
<line x1="215.3" y1="562.86" x2="343.6" y2="562.86" stroke="#fff" stroke-width="0.5"/>
<line x1="215.3" y1="587.68" x2="343.6" y2="587.68" stroke="#fff" stroke-width="0.5"/>
<line x1="222.34" y1="491.7" x2="222.34" y2="604.5" stroke="#fff" stroke-width="1.0"/>
<line x1="254.13" y1="491.7" x2="254.13" y2="604.5" stroke="#fff" stroke-width="1.0"/>
<line x1="285.69" y1="491.7" x2="285.69" y2="604.5" stroke="#fff" stroke-width="1.0"/>
<line x1="317.48" y1="491.7" x2="317.48" y2="604.5" stroke="#fff" stroke-width="1.0"/>
<line x1="215.3" y1="500.84" x2="343.6" y2="500.84" stroke="#fff" stroke-width="1.0"/>
<line x1="215.3" y1="525.65" x2="343.6" y2="525.65" stroke="#fff" stroke-width="1.0"/>
<line x1="215.3" y1="550.46" x2="343.6" y2="550.46" stroke="#fff" stroke-width="1.0"/>
<line x1="215.3" y1="575.27" x2="343.6" y2="575.27" stroke="#fff" stroke-width="1.0"/>
<line x1="215.3" y1="600.08" x2="343.6" y2="600.08" stroke="#fff" stroke-width="1.0"/>
<rect x="220.65" y="599.48" width="12.53" height="0.6" fill="#9A9A9A"/>
<path d="M233.18 600.08V595.99H236.31V600.08ZM236.31 600.08V586.35H239.92V600.08ZM239.92 600.08V574.31H243.05V600.08ZM243.05 600.08V554.55H246.18V600.08ZM246.18 600.08V535.04H249.31V600.08ZM249.31 600.08V523.72H252.45V600.08ZM252.45 600.08V509.75H255.58V600.08ZM255.58 600.08V509.27H258.95V600.08ZM258.95 600.08V502.04H262.08V600.08ZM262.08 600.08V498.91H265.21V600.08ZM265.21 600.08V497.23H268.34V600.08ZM268.34 600.08V497.23H271.47V600.08ZM271.47 600.08V502.04H274.61V600.08ZM274.61 600.08V511.2H277.74V600.08ZM277.74 600.08V527.34H280.87V600.08ZM280.87 600.08V538.18H284V600.08ZM284 600.08V545.88H287.13V600.08ZM287.13 600.08V553.83H290.26V600.08ZM290.26 600.08V558.17H293.39V600.08ZM293.39 600.08V561.06H296.53V600.08ZM296.53 600.08V565.15H299.9V600.08ZM299.9 600.08V569.01H303.03V600.08ZM303.03 600.08V571.9H306.16V600.08ZM306.16 600.08V573.82H309.29V600.08ZM309.29 600.08V575.51H312.42V600.08ZM312.42 600.08V577.92H315.55V600.08ZM315.55 600.08V579.61H318.69V600.08ZM318.69 600.08V580.33H321.82V600.08ZM321.82 600.08V583.46H324.95V600.08ZM324.95 600.08V585.87H328.32V600.08ZM328.32 600.08V587.55H331.45V600.08ZM331.45 600.08V589.24H334.58V600.08ZM334.58 600.08V590.69H337.72V600.08Z" fill="#595959"/>
<line x1="222.34" y1="604.5" x2="222.34" y2="606.8" stroke="#333333" stroke-width="0.9"/>
<text x="222.34" y="617.04" class="t" font-size="7.1" fill="#383838" color="#383838" text-anchor="middle">0</text>
<line x1="254.13" y1="604.5" x2="254.13" y2="606.8" stroke="#333333" stroke-width="0.9"/>
<text x="254.13" y="617.04" class="t" font-size="7.1" fill="#383838" color="#383838" text-anchor="middle">10</text>
<line x1="285.69" y1="604.5" x2="285.69" y2="606.8" stroke="#333333" stroke-width="0.9"/>
<text x="285.69" y="617.04" class="t" font-size="7.1" fill="#383838" color="#383838" text-anchor="middle">20</text>
<line x1="317.48" y1="604.5" x2="317.48" y2="606.8" stroke="#333333" stroke-width="0.9"/>
<text x="317.48" y="617.04" class="t" font-size="7.1" fill="#383838" color="#383838" text-anchor="middle">30</text>
<line x1="213" y1="500.84" x2="215.3" y2="500.84" stroke="#333333" stroke-width="0.9"/>
<text x="205.4" y="503.38" class="t" font-size="7.1" fill="#383838" color="#383838" text-anchor="end">100000</text>
<line x1="213" y1="525.65" x2="215.3" y2="525.65" stroke="#333333" stroke-width="0.9"/>
<text x="205.4" y="528.19" class="t" font-size="7.1" fill="#383838" color="#383838" text-anchor="end">75000</text>
<line x1="213" y1="550.46" x2="215.3" y2="550.46" stroke="#333333" stroke-width="0.9"/>
<text x="205.4" y="553" class="t" font-size="7.1" fill="#383838" color="#383838" text-anchor="end">50000</text>
<line x1="213" y1="575.27" x2="215.3" y2="575.27" stroke="#333333" stroke-width="0.9"/>
<text x="205.4" y="577.81" class="t" font-size="7.1" fill="#383838" color="#383838" text-anchor="end">25000</text>
<line x1="213" y1="600.08" x2="215.3" y2="600.08" stroke="#333333" stroke-width="0.9"/>
<text x="205.4" y="602.62" class="t" font-size="7.1" fill="#383838" color="#383838" text-anchor="end">0</text>
<rect x="388" y="478.4" width="128.3" height="13.3" fill="#D9D9D9"/>
<text x="452.15" y="487.45" class="s" font-size="6.7" fill="#1A1A1A" color="#1A1A1A" text-anchor="middle">Boys_backup</text>
<rect x="388" y="491.7" width="128.3" height="112.8" fill="#EBEBEB"/>
<line x1="415.57" y1="491.7" x2="415.57" y2="604.5" stroke="#fff" stroke-width="0.5"/>
<line x1="456.16" y1="491.7" x2="456.16" y2="604.5" stroke="#fff" stroke-width="0.5"/>
<line x1="496.86" y1="491.7" x2="496.86" y2="604.5" stroke="#fff" stroke-width="0.5"/>
<line x1="388" y1="545.52" x2="516.3" y2="545.52" stroke="#fff" stroke-width="0.5"/>
<line x1="388" y1="581.89" x2="516.3" y2="581.89" stroke="#fff" stroke-width="0.5"/>
<line x1="388" y1="509.15" x2="516.3" y2="509.15" stroke="#fff" stroke-width="0.5"/>
<line x1="395.34" y1="491.7" x2="395.34" y2="604.5" stroke="#fff" stroke-width="1.0"/>
<line x1="435.8" y1="491.7" x2="435.8" y2="604.5" stroke="#fff" stroke-width="1.0"/>
<line x1="476.51" y1="491.7" x2="476.51" y2="604.5" stroke="#fff" stroke-width="1.0"/>
<line x1="388" y1="527.34" x2="516.3" y2="527.34" stroke="#fff" stroke-width="1.0"/>
<line x1="388" y1="563.71" x2="516.3" y2="563.71" stroke="#fff" stroke-width="1.0"/>
<line x1="388" y1="600.08" x2="516.3" y2="600.08" stroke="#fff" stroke-width="1.0"/>
<path d="M405.69 600.08V598.88H409.79V600.08ZM409.79 600.08V595.26H413.88V600.08ZM413.88 600.08V583.94H417.98V600.08ZM417.98 600.08V575.51H422.07V600.08ZM422.07 600.08V544.2H426.17V600.08ZM426.17 600.08V533.36H430.26V600.08ZM430.26 600.08V514.09H434.36V600.08ZM434.36 600.08V498.43H438.45V600.08ZM438.45 600.08V496.74H442.31V600.08ZM442.31 600.08V499.64H446.4V600.08ZM446.4 600.08V509.27H450.5V600.08ZM450.5 600.08V519.39H454.59V600.08ZM454.59 600.08V527.34H458.69V600.08ZM458.69 600.08V534.56H462.78V600.08ZM462.78 600.08V540.58H466.88V600.08ZM466.88 600.08V550.94H470.97V600.08ZM470.97 600.08V555.04H474.82V600.08ZM474.82 600.08V558.65H478.92V600.08ZM478.92 600.08V565.15H483.01V600.08ZM483.01 600.08V568.28H487.11V600.08ZM487.11 600.08V571.9H491.2V600.08ZM491.2 600.08V576.23H495.3V600.08ZM495.3 600.08V582.74H499.15V600.08ZM499.15 600.08V588.76H503.25V600.08ZM503.25 600.08V594.78H507.34V600.08ZM507.34 600.08V597.67H511.2V600.08Z" fill="#595959"/>
<line x1="395.34" y1="604.5" x2="395.34" y2="606.8" stroke="#333333" stroke-width="0.9"/>
<text x="395.34" y="617.04" class="t" font-size="7.1" fill="#383838" color="#383838" text-anchor="middle">0</text>
<line x1="435.8" y1="604.5" x2="435.8" y2="606.8" stroke="#333333" stroke-width="0.9"/>
<text x="435.8" y="617.04" class="t" font-size="7.1" fill="#383838" color="#383838" text-anchor="middle">10</text>
<line x1="476.51" y1="604.5" x2="476.51" y2="606.8" stroke="#333333" stroke-width="0.9"/>
<text x="476.51" y="617.04" class="t" font-size="7.1" fill="#383838" color="#383838" text-anchor="middle">20</text>
<line x1="385.7" y1="527.34" x2="388" y2="527.34" stroke="#333333" stroke-width="0.9"/>
<text x="379.8" y="529.88" class="t" font-size="7.1" fill="#383838" color="#383838" text-anchor="end">1e+05</text>
<line x1="385.7" y1="563.71" x2="388" y2="563.71" stroke="#333333" stroke-width="0.9"/>
<text x="379.8" y="566.25" class="t" font-size="7.1" fill="#383838" color="#383838" text-anchor="end">5e+04</text>
<line x1="385.7" y1="600.08" x2="388" y2="600.08" stroke="#333333" stroke-width="0.9"/>
<text x="379.8" y="602.62" class="t" font-size="7.1" fill="#383838" color="#383838" text-anchor="end">0e+00</text>
<rect x="555.3" y="478.4" width="128.3" height="13.3" fill="#D9D9D9"/>
<text x="619.45" y="487.45" class="s" font-size="6.7" fill="#1A1A1A" color="#1A1A1A" text-anchor="middle">Facilities</text>
<rect x="555.3" y="491.7" width="128.3" height="112.8" fill="#EBEBEB"/>
<line x1="599.61" y1="491.7" x2="599.61" y2="604.5" stroke="#fff" stroke-width="0.5"/>
<line x1="632.37" y1="491.7" x2="632.37" y2="604.5" stroke="#fff" stroke-width="0.5"/>
<line x1="664.89" y1="491.7" x2="664.89" y2="604.5" stroke="#fff" stroke-width="0.5"/>
<line x1="567.09" y1="491.7" x2="567.09" y2="604.5" stroke="#fff" stroke-width="0.5"/>
<line x1="555.3" y1="516.5" x2="683.6" y2="516.5" stroke="#fff" stroke-width="0.5"/>
<line x1="555.3" y1="549.98" x2="683.6" y2="549.98" stroke="#fff" stroke-width="0.5"/>
<line x1="555.3" y1="583.34" x2="683.6" y2="583.34" stroke="#fff" stroke-width="0.5"/>
<line x1="583.35" y1="491.7" x2="583.35" y2="604.5" stroke="#fff" stroke-width="1.0"/>
<line x1="615.87" y1="491.7" x2="615.87" y2="604.5" stroke="#fff" stroke-width="1.0"/>
<line x1="648.87" y1="491.7" x2="648.87" y2="604.5" stroke="#fff" stroke-width="1.0"/>
<line x1="680.91" y1="491.7" x2="680.91" y2="604.5" stroke="#fff" stroke-width="1.0"/>
<line x1="555.3" y1="499.64" x2="683.6" y2="499.64" stroke="#fff" stroke-width="1.0"/>
<line x1="555.3" y1="533.36" x2="683.6" y2="533.36" stroke="#fff" stroke-width="1.0"/>
<line x1="555.3" y1="566.6" x2="683.6" y2="566.6" stroke="#fff" stroke-width="1.0"/>
<line x1="555.3" y1="600.08" x2="683.6" y2="600.08" stroke="#fff" stroke-width="1.0"/>
<rect x="560.47" y="599.48" width="6.5" height="0.6" fill="#9A9A9A"/>
<path d="M566.97 600.08V596.95H573.47V600.08ZM573.47 600.08V595.99H579.98V600.08ZM579.98 600.08V550.22H586.48V600.08ZM586.48 600.08V558.65H592.99V600.08ZM592.99 600.08V558.17H599.49V600.08ZM599.49 600.08V533.36H605.99V600.08ZM605.99 600.08V496.74H612.5V600.08ZM612.5 600.08V518.18H619V600.08ZM619 600.08V528.54H625.5V600.08ZM625.5 600.08V540.1H632.01V600.08ZM632.01 600.08V558.17H638.51V600.08ZM638.51 600.08V571.9H645.01V600.08ZM645.01 600.08V579.85H651.52V600.08ZM651.52 600.08V582.74H658.02V600.08ZM658.02 600.08V585.15H664.53V600.08ZM664.53 600.08V587.55H671.03V600.08ZM671.03 600.08V598.39H677.77V600.08Z" fill="#595959"/>
<line x1="583.35" y1="604.5" x2="583.35" y2="606.8" stroke="#333333" stroke-width="0.9"/>
<text x="583.35" y="617.04" class="t" font-size="7.1" fill="#383838" color="#383838" text-anchor="middle">5</text>
<line x1="615.87" y1="604.5" x2="615.87" y2="606.8" stroke="#333333" stroke-width="0.9"/>
<text x="615.87" y="617.04" class="t" font-size="7.1" fill="#383838" color="#383838" text-anchor="middle">10</text>
<line x1="648.87" y1="604.5" x2="648.87" y2="606.8" stroke="#333333" stroke-width="0.9"/>
<text x="648.87" y="617.04" class="t" font-size="7.1" fill="#383838" color="#383838" text-anchor="middle">15</text>
<line x1="680.91" y1="604.5" x2="680.91" y2="606.8" stroke="#333333" stroke-width="0.9"/>
<text x="680.91" y="617.04" class="t" font-size="7.1" fill="#383838" color="#383838" text-anchor="middle">20</text>
<line x1="553" y1="499.64" x2="555.3" y2="499.64" stroke="#333333" stroke-width="0.9"/>
<text x="548.5" y="502.18" class="t" font-size="7.1" fill="#383838" color="#383838" text-anchor="end">3e+05</text>
<line x1="553" y1="533.36" x2="555.3" y2="533.36" stroke="#333333" stroke-width="0.9"/>
<text x="548.5" y="535.9" class="t" font-size="7.1" fill="#383838" color="#383838" text-anchor="end">2e+05</text>
<line x1="553" y1="566.6" x2="555.3" y2="566.6" stroke="#333333" stroke-width="0.9"/>
<text x="548.5" y="569.14" class="t" font-size="7.1" fill="#383838" color="#383838" text-anchor="end">1e+05</text>
<line x1="553" y1="600.08" x2="555.3" y2="600.08" stroke="#333333" stroke-width="0.9"/>
<text x="548.5" y="602.62" class="t" font-size="7.1" fill="#383838" color="#383838" text-anchor="end">0e+00</text>
<rect x="45.2" y="625.3" width="128.3" height="13.3" fill="#D9D9D9"/>
<text x="109.35" y="634.35" class="s" font-size="6.7" fill="#1A1A1A" color="#1A1A1A" text-anchor="middle">Girls_main</text>
<rect x="45.2" y="638.6" width="128.3" height="112.8" fill="#EBEBEB"/>
<line x1="72.93" y1="638.6" x2="72.93" y2="751.4" stroke="#fff" stroke-width="0.5"/>
<line x1="109.42" y1="638.6" x2="109.42" y2="751.4" stroke="#fff" stroke-width="0.5"/>
<line x1="146.04" y1="638.6" x2="146.04" y2="751.4" stroke="#fff" stroke-width="0.5"/>
<line x1="45.2" y1="670.84" x2="173.5" y2="670.84" stroke="#fff" stroke-width="0.5"/>
<line x1="45.2" y1="692.64" x2="173.5" y2="692.64" stroke="#fff" stroke-width="0.5"/>
<line x1="45.2" y1="714.44" x2="173.5" y2="714.44" stroke="#fff" stroke-width="0.5"/>
<line x1="45.2" y1="736.24" x2="173.5" y2="736.24" stroke="#fff" stroke-width="0.5"/>
<line x1="45.2" y1="648.92" x2="173.5" y2="648.92" stroke="#fff" stroke-width="0.5"/>
<line x1="54.74" y1="638.6" x2="54.74" y2="751.4" stroke="#fff" stroke-width="1.0"/>
<line x1="91.12" y1="638.6" x2="91.12" y2="751.4" stroke="#fff" stroke-width="1.0"/>
<line x1="127.73" y1="638.6" x2="127.73" y2="751.4" stroke="#fff" stroke-width="1.0"/>
<line x1="164.34" y1="638.6" x2="164.34" y2="751.4" stroke="#fff" stroke-width="1.0"/>
<line x1="45.2" y1="659.88" x2="173.5" y2="659.88" stroke="#fff" stroke-width="1.0"/>
<line x1="45.2" y1="681.8" x2="173.5" y2="681.8" stroke="#fff" stroke-width="1.0"/>
<line x1="45.2" y1="703.48" x2="173.5" y2="703.48" stroke="#fff" stroke-width="1.0"/>
<line x1="45.2" y1="725.4" x2="173.5" y2="725.4" stroke="#fff" stroke-width="1.0"/>
<line x1="45.2" y1="747.08" x2="173.5" y2="747.08" stroke="#fff" stroke-width="1.0"/>
<path d="M65.58 747.08V742.5H72.81V747.08ZM72.81 747.08V710.95H80.04V747.08ZM80.04 747.08V681.08H87.26V747.08ZM87.26 747.08V654.58H94.73V747.08ZM94.73 747.08V643.74H101.96V747.08ZM101.96 747.08V644.95H109.42V747.08ZM109.42 747.08V649.77H116.65V747.08ZM116.65 747.08V671.93H123.88V747.08ZM123.88 747.08V694.81H131.34V747.08ZM131.34 747.08V709.99H138.57V747.08ZM138.57 747.08V720.1H145.8V747.08ZM145.8 747.08V731.42H153.26V747.08ZM153.26 747.08V739.37H160.49V747.08Z" fill="#595959"/>
<line x1="54.74" y1="751.4" x2="54.74" y2="753.7" stroke="#333333" stroke-width="0.9"/>
<text x="54.74" y="763.94" class="t" font-size="7.1" fill="#383838" color="#383838" text-anchor="middle">0</text>
<line x1="91.12" y1="751.4" x2="91.12" y2="753.7" stroke="#333333" stroke-width="0.9"/>
<text x="91.12" y="763.94" class="t" font-size="7.1" fill="#383838" color="#383838" text-anchor="middle">5</text>
<line x1="127.73" y1="751.4" x2="127.73" y2="753.7" stroke="#333333" stroke-width="0.9"/>
<text x="127.73" y="763.94" class="t" font-size="7.1" fill="#383838" color="#383838" text-anchor="middle">10</text>
<line x1="164.34" y1="751.4" x2="164.34" y2="753.7" stroke="#333333" stroke-width="0.9"/>
<text x="164.34" y="763.94" class="t" font-size="7.1" fill="#383838" color="#383838" text-anchor="middle">15</text>
<line x1="42.9" y1="659.88" x2="45.2" y2="659.88" stroke="#333333" stroke-width="0.9"/>
<text x="39" y="662.43" class="t" font-size="7.1" fill="#383838" color="#383838" text-anchor="end">200000</text>
<line x1="42.9" y1="681.8" x2="45.2" y2="681.8" stroke="#333333" stroke-width="0.9"/>
<text x="39" y="684.34" class="t" font-size="7.1" fill="#383838" color="#383838" text-anchor="end">150000</text>
<line x1="42.9" y1="703.48" x2="45.2" y2="703.48" stroke="#333333" stroke-width="0.9"/>
<text x="39" y="706.02" class="t" font-size="7.1" fill="#383838" color="#383838" text-anchor="end">100000</text>
<line x1="42.9" y1="725.4" x2="45.2" y2="725.4" stroke="#333333" stroke-width="0.9"/>
<text x="39" y="727.94" class="t" font-size="7.1" fill="#383838" color="#383838" text-anchor="end">50000</text>
<line x1="42.9" y1="747.08" x2="45.2" y2="747.08" stroke="#333333" stroke-width="0.9"/>
<text x="39" y="749.62" class="t" font-size="7.1" fill="#383838" color="#383838" text-anchor="end">0</text>
<rect x="215.3" y="625.3" width="128.3" height="13.3" fill="#D9D9D9"/>
<text x="279.45" y="634.35" class="s" font-size="6.7" fill="#1A1A1A" color="#1A1A1A" text-anchor="middle">Girls_backup</text>
<rect x="215.3" y="638.6" width="128.3" height="112.8" fill="#EBEBEB"/>
<line x1="238.59" y1="638.6" x2="238.59" y2="751.4" stroke="#fff" stroke-width="0.5"/>
<line x1="284" y1="638.6" x2="284" y2="751.4" stroke="#fff" stroke-width="0.5"/>
<line x1="329.28" y1="638.6" x2="329.28" y2="751.4" stroke="#fff" stroke-width="0.5"/>
<line x1="215.3" y1="655.43" x2="343.6" y2="655.43" stroke="#fff" stroke-width="0.5"/>
<line x1="215.3" y1="681.56" x2="343.6" y2="681.56" stroke="#fff" stroke-width="0.5"/>
<line x1="215.3" y1="707.7" x2="343.6" y2="707.7" stroke="#fff" stroke-width="0.5"/>
<line x1="215.3" y1="733.95" x2="343.6" y2="733.95" stroke="#fff" stroke-width="0.5"/>
<line x1="215.83" y1="638.6" x2="215.83" y2="751.4" stroke="#fff" stroke-width="1.0"/>
<line x1="261.36" y1="638.6" x2="261.36" y2="751.4" stroke="#fff" stroke-width="1.0"/>
<line x1="306.64" y1="638.6" x2="306.64" y2="751.4" stroke="#fff" stroke-width="1.0"/>
<line x1="215.3" y1="642.3" x2="343.6" y2="642.3" stroke="#fff" stroke-width="1.0"/>
<line x1="215.3" y1="668.55" x2="343.6" y2="668.55" stroke="#fff" stroke-width="1.0"/>
<line x1="215.3" y1="694.57" x2="343.6" y2="694.57" stroke="#fff" stroke-width="1.0"/>
<line x1="215.3" y1="720.82" x2="343.6" y2="720.82" stroke="#fff" stroke-width="1.0"/>
<line x1="215.3" y1="747.08" x2="343.6" y2="747.08" stroke="#fff" stroke-width="1.0"/>
<path d="M229.8 747.08V744.67H238.72V747.08ZM238.72 747.08V724.2H247.87V747.08ZM247.87 747.08V687.58H256.78V747.08ZM256.78 747.08V663.98H265.93V747.08ZM265.93 747.08V643.74H275.09V747.08ZM275.09 747.08V646.64H284V747.08ZM284 747.08V652.18H293.15V747.08ZM293.15 747.08V682.77H302.07V747.08ZM302.07 747.08V708.78H311.22V747.08ZM311.22 747.08V724.92H320.13V747.08ZM320.13 747.08V738.65H329.28V747.08ZM329.28 747.08V746.12H338.2V747.08Z" fill="#595959"/>
<line x1="215.83" y1="751.4" x2="215.83" y2="753.7" stroke="#333333" stroke-width="0.9"/>
<text x="215.83" y="763.94" class="t" font-size="7.1" fill="#383838" color="#383838" text-anchor="middle">0</text>
<line x1="261.36" y1="751.4" x2="261.36" y2="753.7" stroke="#333333" stroke-width="0.9"/>
<text x="261.36" y="763.94" class="t" font-size="7.1" fill="#383838" color="#383838" text-anchor="middle">5</text>
<line x1="306.64" y1="751.4" x2="306.64" y2="753.7" stroke="#333333" stroke-width="0.9"/>
<text x="306.64" y="763.94" class="t" font-size="7.1" fill="#383838" color="#383838" text-anchor="middle">10</text>
<line x1="213" y1="642.3" x2="215.3" y2="642.3" stroke="#333333" stroke-width="0.9"/>
<text x="205.4" y="644.84" class="t" font-size="7.1" fill="#383838" color="#383838" text-anchor="end">4e+05</text>
<line x1="213" y1="668.55" x2="215.3" y2="668.55" stroke="#333333" stroke-width="0.9"/>
<text x="205.4" y="671.1" class="t" font-size="7.1" fill="#383838" color="#383838" text-anchor="end">3e+05</text>
<line x1="213" y1="694.57" x2="215.3" y2="694.57" stroke="#333333" stroke-width="0.9"/>
<text x="205.4" y="697.11" class="t" font-size="7.1" fill="#383838" color="#383838" text-anchor="end">2e+05</text>
<line x1="213" y1="720.82" x2="215.3" y2="720.82" stroke="#333333" stroke-width="0.9"/>
<text x="205.4" y="723.37" class="t" font-size="7.1" fill="#383838" color="#383838" text-anchor="end">1e+05</text>
<line x1="213" y1="747.08" x2="215.3" y2="747.08" stroke="#333333" stroke-width="0.9"/>
<text x="205.4" y="749.62" class="t" font-size="7.1" fill="#383838" color="#383838" text-anchor="end">0e+00</text>
<rect x="388" y="625.3" width="128.3" height="13.3" fill="#D9D9D9"/>
<text x="452.15" y="634.35" class="s" font-size="6.7" fill="#1A1A1A" color="#1A1A1A" text-anchor="middle">Lecture</text>
<rect x="388" y="638.6" width="128.3" height="112.8" fill="#EBEBEB"/>
<line x1="416.77" y1="638.6" x2="416.77" y2="751.4" stroke="#fff" stroke-width="0.5"/>
<line x1="449.17" y1="638.6" x2="449.17" y2="751.4" stroke="#fff" stroke-width="0.5"/>
<line x1="481.69" y1="638.6" x2="481.69" y2="751.4" stroke="#fff" stroke-width="0.5"/>
<line x1="514.21" y1="638.6" x2="514.21" y2="751.4" stroke="#fff" stroke-width="0.5"/>
<line x1="388" y1="673.73" x2="516.3" y2="673.73" stroke="#fff" stroke-width="0.5"/>
<line x1="388" y1="703" x2="516.3" y2="703" stroke="#fff" stroke-width="0.5"/>
<line x1="388" y1="732.39" x2="516.3" y2="732.39" stroke="#fff" stroke-width="0.5"/>
<line x1="388" y1="644.59" x2="516.3" y2="644.59" stroke="#fff" stroke-width="0.5"/>
<line x1="400.64" y1="638.6" x2="400.64" y2="751.4" stroke="#fff" stroke-width="1.0"/>
<line x1="432.91" y1="638.6" x2="432.91" y2="751.4" stroke="#fff" stroke-width="1.0"/>
<line x1="465.43" y1="638.6" x2="465.43" y2="751.4" stroke="#fff" stroke-width="1.0"/>
<line x1="497.95" y1="638.6" x2="497.95" y2="751.4" stroke="#fff" stroke-width="1.0"/>
<line x1="388" y1="659.16" x2="516.3" y2="659.16" stroke="#fff" stroke-width="1.0"/>
<line x1="388" y1="688.31" x2="516.3" y2="688.31" stroke="#fff" stroke-width="1.0"/>
<line x1="388" y1="717.69" x2="516.3" y2="717.69" stroke="#fff" stroke-width="1.0"/>
<line x1="388" y1="747.08" x2="516.3" y2="747.08" stroke="#fff" stroke-width="1.0"/>
<rect x="497.95" y="746.48" width="13.01" height="0.6" fill="#9A9A9A"/>
<path d="M394.13 747.08V742.99H407.14V747.08ZM407.14 747.08V708.06H420.15V747.08ZM420.15 747.08V715.28H432.91V747.08ZM432.91 747.08V724.92H445.92V747.08ZM445.92 747.08V643.74H458.93V747.08ZM458.93 747.08V722.51H471.93V747.08ZM471.93 747.08V737.45H484.94V747.08ZM484.94 747.08V738.65H497.95V747.08Z" fill="#595959"/>
<line x1="400.64" y1="751.4" x2="400.64" y2="753.7" stroke="#333333" stroke-width="0.9"/>
<text x="400.64" y="763.94" class="t" font-size="7.1" fill="#383838" color="#383838" text-anchor="middle">0.0</text>
<line x1="432.91" y1="751.4" x2="432.91" y2="753.7" stroke="#333333" stroke-width="0.9"/>
<text x="432.91" y="763.94" class="t" font-size="7.1" fill="#383838" color="#383838" text-anchor="middle">2.5</text>
<line x1="465.43" y1="751.4" x2="465.43" y2="753.7" stroke="#333333" stroke-width="0.9"/>
<text x="465.43" y="763.94" class="t" font-size="7.1" fill="#383838" color="#383838" text-anchor="middle">5.0</text>
<line x1="497.95" y1="751.4" x2="497.95" y2="753.7" stroke="#333333" stroke-width="0.9"/>
<text x="497.95" y="763.94" class="t" font-size="7.1" fill="#383838" color="#383838" text-anchor="middle">7.5</text>
<line x1="385.7" y1="659.16" x2="388" y2="659.16" stroke="#333333" stroke-width="0.9"/>
<text x="379.8" y="661.7" class="t" font-size="7.1" fill="#383838" color="#383838" text-anchor="end">150000</text>
<line x1="385.7" y1="688.31" x2="388" y2="688.31" stroke="#333333" stroke-width="0.9"/>
<text x="379.8" y="690.85" class="t" font-size="7.1" fill="#383838" color="#383838" text-anchor="end">100000</text>
<line x1="385.7" y1="717.69" x2="388" y2="717.69" stroke="#333333" stroke-width="0.9"/>
<text x="379.8" y="720.24" class="t" font-size="7.1" fill="#383838" color="#383838" text-anchor="end">50000</text>
<line x1="385.7" y1="747.08" x2="388" y2="747.08" stroke="#333333" stroke-width="0.9"/>
<text x="379.8" y="749.62" class="t" font-size="7.1" fill="#383838" color="#383838" text-anchor="end">0</text>
<rect x="555.3" y="625.3" width="128.3" height="13.3" fill="#D9D9D9"/>
<text x="619.45" y="634.35" class="s" font-size="6.7" fill="#1A1A1A" color="#1A1A1A" text-anchor="middle">Library</text>
<rect x="555.3" y="638.6" width="128.3" height="112.8" fill="#EBEBEB"/>
<line x1="576" y1="638.6" x2="576" y2="751.4" stroke="#fff" stroke-width="0.5"/>
<line x1="601.54" y1="638.6" x2="601.54" y2="751.4" stroke="#fff" stroke-width="0.5"/>
<line x1="627.07" y1="638.6" x2="627.07" y2="751.4" stroke="#fff" stroke-width="0.5"/>
<line x1="652.36" y1="638.6" x2="652.36" y2="751.4" stroke="#fff" stroke-width="0.5"/>
<line x1="677.65" y1="638.6" x2="677.65" y2="751.4" stroke="#fff" stroke-width="0.5"/>
<line x1="555.3" y1="659.88" x2="683.6" y2="659.88" stroke="#fff" stroke-width="0.5"/>
<line x1="555.3" y1="684.81" x2="683.6" y2="684.81" stroke="#fff" stroke-width="0.5"/>
<line x1="555.3" y1="709.62" x2="683.6" y2="709.62" stroke="#fff" stroke-width="0.5"/>
<line x1="555.3" y1="734.55" x2="683.6" y2="734.55" stroke="#fff" stroke-width="0.5"/>
<line x1="563.36" y1="638.6" x2="563.36" y2="751.4" stroke="#fff" stroke-width="1.0"/>
<line x1="588.65" y1="638.6" x2="588.65" y2="751.4" stroke="#fff" stroke-width="1.0"/>
<line x1="614.42" y1="638.6" x2="614.42" y2="751.4" stroke="#fff" stroke-width="1.0"/>
<line x1="639.72" y1="638.6" x2="639.72" y2="751.4" stroke="#fff" stroke-width="1.0"/>
<line x1="665.01" y1="638.6" x2="665.01" y2="751.4" stroke="#fff" stroke-width="1.0"/>
<line x1="555.3" y1="647.36" x2="683.6" y2="647.36" stroke="#fff" stroke-width="1.0"/>
<line x1="555.3" y1="672.41" x2="683.6" y2="672.41" stroke="#fff" stroke-width="1.0"/>
<line x1="555.3" y1="697.22" x2="683.6" y2="697.22" stroke="#fff" stroke-width="1.0"/>
<line x1="555.3" y1="722.03" x2="683.6" y2="722.03" stroke="#fff" stroke-width="1.0"/>
<line x1="555.3" y1="747.08" x2="683.6" y2="747.08" stroke="#fff" stroke-width="1.0"/>
<path d="M565.77 747.08V735.76H571.07V747.08ZM571.07 747.08V703.24H576.12V747.08ZM576.12 747.08V687.1H581.18V747.08ZM581.18 747.08V647.12H586.24V747.08ZM586.24 747.08V643.74H591.3V747.08ZM591.3 747.08V656.99H596.36V747.08ZM596.36 747.08V675.06H601.42V747.08ZM601.42 747.08V697.22H606.47V747.08ZM606.47 747.08V704.93H611.53V747.08ZM611.53 747.08V711.19H616.83V747.08ZM616.83 747.08V717.21H621.89V747.08ZM621.89 747.08V722.99H626.95V747.08ZM626.95 747.08V729.01H632.01V747.08ZM632.01 747.08V732.87H637.07V747.08ZM637.07 747.08V732.39H642.12V747.08ZM642.12 747.08V730.94H647.18V747.08ZM647.18 747.08V730.22H652.24V747.08ZM652.24 747.08V732.15H657.3V747.08ZM657.3 747.08V732.87H662.36V747.08ZM662.36 747.08V734.07H667.66V747.08ZM667.66 747.08V736.24H672.72V747.08ZM672.72 747.08V741.3H677.77V747.08Z" fill="#595959"/>
<line x1="563.36" y1="751.4" x2="563.36" y2="753.7" stroke="#333333" stroke-width="0.9"/>
<text x="563.36" y="763.94" class="t" font-size="7.1" fill="#383838" color="#383838" text-anchor="middle">0</text>
<line x1="588.65" y1="751.4" x2="588.65" y2="753.7" stroke="#333333" stroke-width="0.9"/>
<text x="588.65" y="763.94" class="t" font-size="7.1" fill="#383838" color="#383838" text-anchor="middle">5</text>
<line x1="614.42" y1="751.4" x2="614.42" y2="753.7" stroke="#333333" stroke-width="0.9"/>
<text x="614.42" y="763.94" class="t" font-size="7.1" fill="#383838" color="#383838" text-anchor="middle">10</text>
<line x1="639.72" y1="751.4" x2="639.72" y2="753.7" stroke="#333333" stroke-width="0.9"/>
<text x="639.72" y="763.94" class="t" font-size="7.1" fill="#383838" color="#383838" text-anchor="middle">15</text>
<line x1="665.01" y1="751.4" x2="665.01" y2="753.7" stroke="#333333" stroke-width="0.9"/>
<text x="665.01" y="763.94" class="t" font-size="7.1" fill="#383838" color="#383838" text-anchor="middle">20</text>
<line x1="553" y1="647.36" x2="555.3" y2="647.36" stroke="#333333" stroke-width="0.9"/>
<text x="548.5" y="649.9" class="t" font-size="7.1" fill="#383838" color="#383838" text-anchor="end">200000</text>
<line x1="553" y1="672.41" x2="555.3" y2="672.41" stroke="#333333" stroke-width="0.9"/>
<text x="548.5" y="674.95" class="t" font-size="7.1" fill="#383838" color="#383838" text-anchor="end">150000</text>
<line x1="553" y1="697.22" x2="555.3" y2="697.22" stroke="#333333" stroke-width="0.9"/>
<text x="548.5" y="699.76" class="t" font-size="7.1" fill="#383838" color="#383838" text-anchor="end">100000</text>
<line x1="553" y1="722.03" x2="555.3" y2="722.03" stroke="#333333" stroke-width="0.9"/>
<text x="548.5" y="724.57" class="t" font-size="7.1" fill="#383838" color="#383838" text-anchor="end">50000</text>
<line x1="553" y1="747.08" x2="555.3" y2="747.08" stroke="#333333" stroke-width="0.9"/>
<text x="548.5" y="749.62" class="t" font-size="7.1" fill="#383838" color="#383838" text-anchor="end">0</text>
<rect x="45.2" y="773.8" width="128.3" height="13.3" fill="#D9D9D9"/>
<text x="109.35" y="782.85" class="s" font-size="6.7" fill="#1A1A1A" color="#1A1A1A" text-anchor="middle">Dining</text>
<rect x="45.2" y="787.1" width="128.3" height="112.8" fill="#EBEBEB"/>
<line x1="64.86" y1="787.1" x2="64.86" y2="899.9" stroke="#fff" stroke-width="0.5"/>
<line x1="90.51" y1="787.1" x2="90.51" y2="899.9" stroke="#fff" stroke-width="0.5"/>
<line x1="116.05" y1="787.1" x2="116.05" y2="899.9" stroke="#fff" stroke-width="0.5"/>
<line x1="141.46" y1="787.1" x2="141.46" y2="899.9" stroke="#fff" stroke-width="0.5"/>
<line x1="166.99" y1="787.1" x2="166.99" y2="899.9" stroke="#fff" stroke-width="0.5"/>
<line x1="45.2" y1="808.73" x2="173.5" y2="808.73" stroke="#fff" stroke-width="0.5"/>
<line x1="45.2" y1="833.42" x2="173.5" y2="833.42" stroke="#fff" stroke-width="0.5"/>
<line x1="45.2" y1="858.11" x2="173.5" y2="858.11" stroke="#fff" stroke-width="0.5"/>
<line x1="45.2" y1="882.8" x2="173.5" y2="882.8" stroke="#fff" stroke-width="0.5"/>
<line x1="52.09" y1="787.1" x2="52.09" y2="899.9" stroke="#fff" stroke-width="1.0"/>
<line x1="77.63" y1="787.1" x2="77.63" y2="899.9" stroke="#fff" stroke-width="1.0"/>
<line x1="103.4" y1="787.1" x2="103.4" y2="899.9" stroke="#fff" stroke-width="1.0"/>
<line x1="128.69" y1="787.1" x2="128.69" y2="899.9" stroke="#fff" stroke-width="1.0"/>
<line x1="154.23" y1="787.1" x2="154.23" y2="899.9" stroke="#fff" stroke-width="1.0"/>
<line x1="45.2" y1="796.32" x2="173.5" y2="796.32" stroke="#fff" stroke-width="1.0"/>
<line x1="45.2" y1="821.13" x2="173.5" y2="821.13" stroke="#fff" stroke-width="1.0"/>
<line x1="45.2" y1="845.7" x2="173.5" y2="845.7" stroke="#fff" stroke-width="1.0"/>
<line x1="45.2" y1="870.51" x2="173.5" y2="870.51" stroke="#fff" stroke-width="1.0"/>
<line x1="45.2" y1="895.08" x2="173.5" y2="895.08" stroke="#fff" stroke-width="1.0"/>
<path d="M61.03 895.08V894.12H63.58V895.08ZM63.58 895.08V892.91H66.14V895.08ZM66.14 895.08V890.99H68.69V895.08ZM68.69 895.08V886.65H71.24V895.08ZM71.24 895.08V879.66H73.8V895.08ZM73.8 895.08V870.51H76.35V895.08ZM76.35 895.08V860.15H78.9V895.08ZM78.9 895.08V847.15H81.46V895.08ZM81.46 895.08V823.54H84.01V895.08ZM84.01 895.08V807.4H86.56V895.08ZM86.56 895.08V801.38H89.12V895.08ZM89.12 895.08V795.84H91.67V895.08ZM91.67 895.08V793.91H94.22V895.08ZM94.22 895.08V792.23H96.78V895.08ZM96.78 895.08V796.56H99.33V895.08ZM99.33 895.08V801.86H101.88V895.08ZM101.88 895.08V805.47H104.44V895.08ZM104.44 895.08V807.88H106.99V895.08ZM106.99 895.08V811.01H109.54V895.08ZM109.54 895.08V815.11H112.1V895.08ZM112.1 895.08V821.13H114.65V895.08ZM114.65 895.08V825.95H117.2V895.08ZM117.2 895.08V830.77H119.76V895.08ZM119.76 895.08V836.07H122.31V895.08ZM122.31 895.08V840.88H124.86V895.08ZM124.86 895.08V845.7H127.42V895.08ZM127.42 895.08V850.04H129.97V895.08ZM129.97 895.08V854.85H132.52V895.08ZM132.52 895.08V858.47H135.08V895.08ZM135.08 895.08V862.56H137.63V895.08ZM137.63 895.08V865.69H140.18V895.08ZM140.18 895.08V868.82H142.74V895.08ZM142.74 895.08V871.72H145.29V895.08ZM145.29 895.08V874.61H147.84V895.08ZM147.84 895.08V877.01H150.4V895.08ZM150.4 895.08V878.94H152.95V895.08ZM152.95 895.08V880.87H155.5V895.08ZM155.5 895.08V882.55H158.06V895.08ZM158.06 895.08V884.48H160.61V895.08ZM160.61 895.08V886.17H163.16V895.08ZM163.16 895.08V888.58H165.72V895.08ZM165.72 895.08V891.47H168.27V895.08Z" fill="#595959"/>
<line x1="52.09" y1="899.9" x2="52.09" y2="902.2" stroke="#333333" stroke-width="0.9"/>
<text x="52.09" y="912.44" class="t" font-size="7.1" fill="#383838" color="#383838" text-anchor="middle">0</text>
<line x1="77.63" y1="899.9" x2="77.63" y2="902.2" stroke="#333333" stroke-width="0.9"/>
<text x="77.63" y="912.44" class="t" font-size="7.1" fill="#383838" color="#383838" text-anchor="middle">10</text>
<line x1="103.4" y1="899.9" x2="103.4" y2="902.2" stroke="#333333" stroke-width="0.9"/>
<text x="103.4" y="912.44" class="t" font-size="7.1" fill="#383838" color="#383838" text-anchor="middle">20</text>
<line x1="128.69" y1="899.9" x2="128.69" y2="902.2" stroke="#333333" stroke-width="0.9"/>
<text x="128.69" y="912.44" class="t" font-size="7.1" fill="#383838" color="#383838" text-anchor="middle">30</text>
<line x1="154.23" y1="899.9" x2="154.23" y2="902.2" stroke="#333333" stroke-width="0.9"/>
<text x="154.23" y="912.44" class="t" font-size="7.1" fill="#383838" color="#383838" text-anchor="middle">40</text>
<line x1="42.9" y1="796.32" x2="45.2" y2="796.32" stroke="#333333" stroke-width="0.9"/>
<text x="39" y="798.86" class="t" font-size="7.1" fill="#383838" color="#383838" text-anchor="end">100000</text>
<line x1="42.9" y1="821.13" x2="45.2" y2="821.13" stroke="#333333" stroke-width="0.9"/>
<text x="39" y="823.67" class="t" font-size="7.1" fill="#383838" color="#383838" text-anchor="end">75000</text>
<line x1="42.9" y1="845.7" x2="45.2" y2="845.7" stroke="#333333" stroke-width="0.9"/>
<text x="39" y="848.24" class="t" font-size="7.1" fill="#383838" color="#383838" text-anchor="end">50000</text>
<line x1="42.9" y1="870.51" x2="45.2" y2="870.51" stroke="#333333" stroke-width="0.9"/>
<text x="39" y="873.05" class="t" font-size="7.1" fill="#383838" color="#383838" text-anchor="end">25000</text>
<line x1="42.9" y1="895.08" x2="45.2" y2="895.08" stroke="#333333" stroke-width="0.9"/>
<text x="39" y="897.62" class="t" font-size="7.1" fill="#383838" color="#383838" text-anchor="end">0</text>
<rect x="215.3" y="773.8" width="128.3" height="13.3" fill="#D9D9D9"/>
<text x="279.45" y="782.85" class="s" font-size="6.7" fill="#1A1A1A" color="#1A1A1A" text-anchor="middle">Transformer_1</text>
<rect x="215.3" y="787.1" width="128.3" height="112.8" fill="#EBEBEB"/>
<line x1="237.99" y1="787.1" x2="237.99" y2="899.9" stroke="#fff" stroke-width="0.5"/>
<line x1="271.47" y1="787.1" x2="271.47" y2="899.9" stroke="#fff" stroke-width="0.5"/>
<line x1="304.96" y1="787.1" x2="304.96" y2="899.9" stroke="#fff" stroke-width="0.5"/>
<line x1="338.2" y1="787.1" x2="338.2" y2="899.9" stroke="#fff" stroke-width="0.5"/>
<line x1="215.3" y1="802.46" x2="343.6" y2="802.46" stroke="#fff" stroke-width="0.5"/>
<line x1="215.3" y1="822.94" x2="343.6" y2="822.94" stroke="#fff" stroke-width="0.5"/>
<line x1="215.3" y1="843.53" x2="343.6" y2="843.53" stroke="#fff" stroke-width="0.5"/>
<line x1="215.3" y1="864.13" x2="343.6" y2="864.13" stroke="#fff" stroke-width="0.5"/>
<line x1="215.3" y1="884.72" x2="343.6" y2="884.72" stroke="#fff" stroke-width="0.5"/>
<line x1="221.37" y1="787.1" x2="221.37" y2="899.9" stroke="#fff" stroke-width="1.0"/>
<line x1="254.61" y1="787.1" x2="254.61" y2="899.9" stroke="#fff" stroke-width="1.0"/>
<line x1="288.34" y1="787.1" x2="288.34" y2="899.9" stroke="#fff" stroke-width="1.0"/>
<line x1="321.58" y1="787.1" x2="321.58" y2="899.9" stroke="#fff" stroke-width="1.0"/>
<line x1="215.3" y1="792.23" x2="343.6" y2="792.23" stroke="#fff" stroke-width="1.0"/>
<line x1="215.3" y1="812.7" x2="343.6" y2="812.7" stroke="#fff" stroke-width="1.0"/>
<line x1="215.3" y1="833.18" x2="343.6" y2="833.18" stroke="#fff" stroke-width="1.0"/>
<line x1="215.3" y1="853.89" x2="343.6" y2="853.89" stroke="#fff" stroke-width="1.0"/>
<line x1="215.3" y1="874.36" x2="343.6" y2="874.36" stroke="#fff" stroke-width="1.0"/>
<line x1="215.3" y1="895.08" x2="343.6" y2="895.08" stroke="#fff" stroke-width="1.0"/>
<path d="M220.77 895.08V837.99H222.22V895.08ZM227.15 895.08V884.96H228.36V895.08ZM228.36 895.08V889.06H229.56V895.08ZM229.56 895.08V892.19H230.77V895.08ZM230.77 895.08V893.88H232.69V895.08ZM233.9 895.08V870.78H235.23V895.08ZM235.23 895.08V859.09H236.57V895.08ZM236.57 895.08V855.31H237.91V895.08ZM237.91 895.08V851.5H239.25V895.08ZM239.25 895.08V842.68H240.58V895.08ZM240.58 895.08V832.05H241.92V895.08ZM241.92 895.08V815.25H243.26V895.08ZM243.26 895.08V800.66H244.59V895.08ZM244.59 895.08V793.88H245.93V895.08ZM245.93 895.08V792.71H247.27V895.08ZM247.27 895.08V792.56H248.6V895.08ZM248.6 895.08V793.26H249.94V895.08ZM249.94 895.08V794.23H251.28V895.08ZM251.28 895.08V795.4H252.61V895.08ZM252.61 895.08V799.19H253.95V895.08ZM253.95 895.08V805.5H255.29V895.08ZM255.29 895.08V813.29H256.62V895.08ZM256.62 895.08V821.28H257.96V895.08ZM257.96 895.08V827.97H259.3V895.08ZM259.3 895.08V834.1H260.64V895.08ZM260.64 895.08V838.27H261.97V895.08ZM261.97 895.08V842.92H263.31V895.08ZM263.31 895.08V847.71H264.65V895.08ZM264.65 895.08V851.31H265.98V895.08ZM265.98 895.08V854.15H267.32V895.08ZM267.32 895.08V857.02H268.66V895.08ZM268.66 895.08V859.46H269.99V895.08ZM269.99 895.08V861.75H271.33V895.08ZM271.33 895.08V863.09H272.67V895.08ZM272.67 895.08V864.17H274V895.08ZM274 895.08V864.71H275.34V895.08ZM275.34 895.08V865.52H276.68V895.08ZM276.68 895.08V866.58H278.01V895.08ZM278.01 895.08V867.84H279.35V895.08ZM279.35 895.08V869.18H280.69V895.08ZM280.69 895.08V870.76H282.02V895.08ZM282.02 895.08V872.38H283.36V895.08ZM283.36 895.08V874.12H284.7V895.08ZM284.7 895.08V875.93H286.04V895.08ZM286.04 895.08V877.94H287.37V895.08ZM287.37 895.08V879.61H288.71V895.08ZM288.71 895.08V880.95H290.05V895.08ZM290.05 895.08V882.28H291.38V895.08ZM291.38 895.08V883.62H292.72V895.08ZM292.72 895.08V884.72H294.06V895.08ZM294.06 895.08V885.81H295.39V895.08ZM295.39 895.08V887.15H296.73V895.08ZM296.73 895.08V888.25H298.07V895.08ZM298.07 895.08V888.79H299.4V895.08ZM299.4 895.08V889.26H300.74V895.08ZM300.74 895.08V889.66H302.08V895.08ZM302.08 895.08V890.24H303.41V895.08ZM303.41 895.08V890.91H304.75V895.08ZM304.75 895.08V891.34H306.09V895.08ZM306.09 895.08V891.74H307.43V895.08ZM307.43 895.08V892.1H308.76V895.08ZM308.76 895.08V892.45H310.1V895.08ZM310.1 895.08V892.77H311.44V895.08ZM311.44 895.08V893.04H312.77V895.08ZM312.77 895.08V893.31H314.11V895.08ZM314.11 895.08V893.44H315.45V895.08ZM315.45 895.08V893.51H316.78V895.08ZM316.78 895.08V893.57H318.12V895.08ZM318.12 895.08V893.64H319.46V895.08ZM319.46 895.08V893.69H320.79V895.08ZM320.79 895.08V893.75H322.13V895.08ZM322.13 895.08V893.8H323.47V895.08ZM323.47 895.08V893.85H324.8V895.08ZM324.8 895.08V893.91H326.14V895.08ZM326.14 895.08V893.96H327.48V895.08ZM327.48 895.08V894.01H328.81V895.08ZM328.81 895.08V894.07H330.15V895.08ZM330.15 895.08V894.12H331.49V895.08ZM331.49 895.08V894.17H332.83V895.08ZM332.83 895.08V894.22H334.16V895.08ZM334.16 895.08V894.27H335.5V895.08ZM335.5 895.08V894.32H336.84V895.08ZM336.84 895.08V894.35H337.23V895.08Z" fill="#595959"/>
<line x1="221.37" y1="899.9" x2="221.37" y2="902.2" stroke="#333333" stroke-width="0.9"/>
<text x="221.37" y="912.44" class="t" font-size="7.1" fill="#383838" color="#383838" text-anchor="middle">0</text>
<line x1="254.61" y1="899.9" x2="254.61" y2="902.2" stroke="#333333" stroke-width="0.9"/>
<text x="254.61" y="912.44" class="t" font-size="7.1" fill="#383838" color="#383838" text-anchor="middle">25</text>
<line x1="288.34" y1="899.9" x2="288.34" y2="902.2" stroke="#333333" stroke-width="0.9"/>
<text x="288.34" y="912.44" class="t" font-size="7.1" fill="#383838" color="#383838" text-anchor="middle">50</text>
<line x1="321.58" y1="899.9" x2="321.58" y2="902.2" stroke="#333333" stroke-width="0.9"/>
<text x="321.58" y="912.44" class="t" font-size="7.1" fill="#383838" color="#383838" text-anchor="middle">75</text>
<line x1="213" y1="792.23" x2="215.3" y2="792.23" stroke="#333333" stroke-width="0.9"/>
<text x="205.4" y="794.77" class="t" font-size="7.1" fill="#383838" color="#383838" text-anchor="end">50000</text>
<line x1="213" y1="812.7" x2="215.3" y2="812.7" stroke="#333333" stroke-width="0.9"/>
<text x="205.4" y="815.24" class="t" font-size="7.1" fill="#383838" color="#383838" text-anchor="end">40000</text>
<line x1="213" y1="833.18" x2="215.3" y2="833.18" stroke="#333333" stroke-width="0.9"/>
<text x="205.4" y="835.72" class="t" font-size="7.1" fill="#383838" color="#383838" text-anchor="end">30000</text>
<line x1="213" y1="853.89" x2="215.3" y2="853.89" stroke="#333333" stroke-width="0.9"/>
<text x="205.4" y="856.43" class="t" font-size="7.1" fill="#383838" color="#383838" text-anchor="end">20000</text>
<line x1="213" y1="874.36" x2="215.3" y2="874.36" stroke="#333333" stroke-width="0.9"/>
<text x="205.4" y="876.91" class="t" font-size="7.1" fill="#383838" color="#383838" text-anchor="end">10000</text>
<line x1="213" y1="895.08" x2="215.3" y2="895.08" stroke="#333333" stroke-width="0.9"/>
<text x="205.4" y="897.62" class="t" font-size="7.1" fill="#383838" color="#383838" text-anchor="end">0</text>
<rect x="388" y="773.8" width="128.3" height="13.3" fill="#D9D9D9"/>
<text x="452.15" y="782.85" class="s" font-size="6.7" fill="#1A1A1A" color="#1A1A1A" text-anchor="middle">Transformer_2</text>
<rect x="388" y="787.1" width="128.3" height="112.8" fill="#EBEBEB"/>
<line x1="411.84" y1="787.1" x2="411.84" y2="899.9" stroke="#fff" stroke-width="0.5"/>
<line x1="447.61" y1="787.1" x2="447.61" y2="899.9" stroke="#fff" stroke-width="0.5"/>
<line x1="483.5" y1="787.1" x2="483.5" y2="899.9" stroke="#fff" stroke-width="0.5"/>
<line x1="388" y1="821.37" x2="516.3" y2="821.37" stroke="#fff" stroke-width="0.5"/>
<line x1="388" y1="850.88" x2="516.3" y2="850.88" stroke="#fff" stroke-width="0.5"/>
<line x1="388" y1="880.39" x2="516.3" y2="880.39" stroke="#fff" stroke-width="0.5"/>
<line x1="388" y1="791.99" x2="516.3" y2="791.99" stroke="#fff" stroke-width="0.5"/>
<line x1="393.89" y1="787.1" x2="393.89" y2="899.9" stroke="#fff" stroke-width="1.0"/>
<line x1="429.78" y1="787.1" x2="429.78" y2="899.9" stroke="#fff" stroke-width="1.0"/>
<line x1="465.43" y1="787.1" x2="465.43" y2="899.9" stroke="#fff" stroke-width="1.0"/>
<line x1="501.56" y1="787.1" x2="501.56" y2="899.9" stroke="#fff" stroke-width="1.0"/>
<line x1="388" y1="806.68" x2="516.3" y2="806.68" stroke="#fff" stroke-width="1.0"/>
<line x1="388" y1="836.07" x2="516.3" y2="836.07" stroke="#fff" stroke-width="1.0"/>
<line x1="388" y1="865.69" x2="516.3" y2="865.69" stroke="#fff" stroke-width="1.0"/>
<line x1="388" y1="895.08" x2="516.3" y2="895.08" stroke="#fff" stroke-width="1.0"/>
<polygon points="397.74,895.08 397.74,894.6 402.56,894.12 406.18,892.19 408.58,888.58 410.51,881.35 412.2,869.31 413.88,852.45 415.33,837.99 416.53,829.56 418.22,827.15 419.42,821.13 420.63,805.47 421.59,793.43 422.55,799.45 423.52,811.5 424.48,821.13 425.93,833.18 427.13,841.61 428.34,852.45 429.78,862.08 431.47,871.72 433.15,874.61 435.08,876.05 437.49,876.53 439.9,877.74 442.31,879.42 444.23,881.35 445.92,883.76 447.61,885.69 449.53,887.37 451.94,888.58 454.35,889.06 456.76,889.78 459.17,890.99 461.58,890.99 463.5,889.06 465.19,886.17 466.88,882.55 468.8,878.46 470.73,875.33 473.14,873.64 475.55,872.2 477.23,871.23 478.92,872.92 480.85,875.33 483.26,877.74 485.66,880.15 488.07,882.55 490.48,886.17 492.89,889.06 495.3,890.99 497.71,892.91 500.12,893.88 502.53,894.36 510.47,894.36 510.47,895.08" fill="#595959"/>
<line x1="393.89" y1="899.9" x2="393.89" y2="902.2" stroke="#333333" stroke-width="0.9"/>
<text x="393.89" y="912.44" class="t" font-size="7.1" fill="#383838" color="#383838" text-anchor="middle">0</text>
<line x1="429.78" y1="899.9" x2="429.78" y2="902.2" stroke="#333333" stroke-width="0.9"/>
<text x="429.78" y="912.44" class="t" font-size="7.1" fill="#383838" color="#383838" text-anchor="middle">100</text>
<line x1="465.43" y1="899.9" x2="465.43" y2="902.2" stroke="#333333" stroke-width="0.9"/>
<text x="465.43" y="912.44" class="t" font-size="7.1" fill="#383838" color="#383838" text-anchor="middle">200</text>
<line x1="501.56" y1="899.9" x2="501.56" y2="902.2" stroke="#333333" stroke-width="0.9"/>
<text x="501.56" y="912.44" class="t" font-size="7.1" fill="#383838" color="#383838" text-anchor="middle">300</text>
<line x1="385.7" y1="806.68" x2="388" y2="806.68" stroke="#333333" stroke-width="0.9"/>
<text x="379.8" y="809.22" class="t" font-size="7.1" fill="#383838" color="#383838" text-anchor="end">30000</text>
<line x1="385.7" y1="836.07" x2="388" y2="836.07" stroke="#333333" stroke-width="0.9"/>
<text x="379.8" y="838.61" class="t" font-size="7.1" fill="#383838" color="#383838" text-anchor="end">20000</text>
<line x1="385.7" y1="865.69" x2="388" y2="865.69" stroke="#333333" stroke-width="0.9"/>
<text x="379.8" y="868.24" class="t" font-size="7.1" fill="#383838" color="#383838" text-anchor="end">10000</text>
<line x1="385.7" y1="895.08" x2="388" y2="895.08" stroke="#333333" stroke-width="0.9"/>
<text x="379.8" y="897.62" class="t" font-size="7.1" fill="#383838" color="#383838" text-anchor="end">0</text>
<rect x="555.3" y="773.8" width="128.3" height="13.3" fill="#D9D9D9"/>
<text x="619.45" y="782.85" class="s" font-size="6.7" fill="#1A1A1A" color="#1A1A1A" text-anchor="middle">Transformer_3</text>
<rect x="555.3" y="787.1" width="128.3" height="112.8" fill="#EBEBEB"/>
<line x1="622.49" y1="787.1" x2="622.49" y2="899.9" stroke="#fff" stroke-width="0.5"/>
<line x1="575.04" y1="787.1" x2="575.04" y2="899.9" stroke="#fff" stroke-width="0.5"/>
<line x1="669.95" y1="787.1" x2="669.95" y2="899.9" stroke="#fff" stroke-width="0.5"/>
<line x1="555.3" y1="800.9" x2="683.6" y2="800.9" stroke="#fff" stroke-width="0.5"/>
<line x1="555.3" y1="827.88" x2="683.6" y2="827.88" stroke="#fff" stroke-width="0.5"/>
<line x1="555.3" y1="854.85" x2="683.6" y2="854.85" stroke="#fff" stroke-width="0.5"/>
<line x1="555.3" y1="881.71" x2="683.6" y2="881.71" stroke="#fff" stroke-width="0.5"/>
<line x1="598.77" y1="787.1" x2="598.77" y2="899.9" stroke="#fff" stroke-width="1.0"/>
<line x1="646.22" y1="787.1" x2="646.22" y2="899.9" stroke="#fff" stroke-width="1.0"/>
<line x1="555.3" y1="787.41" x2="683.6" y2="787.41" stroke="#fff" stroke-width="1.0"/>
<line x1="555.3" y1="814.39" x2="683.6" y2="814.39" stroke="#fff" stroke-width="1.0"/>
<line x1="555.3" y1="841.36" x2="683.6" y2="841.36" stroke="#fff" stroke-width="1.0"/>
<line x1="555.3" y1="868.34" x2="683.6" y2="868.34" stroke="#fff" stroke-width="1.0"/>
<line x1="555.3" y1="895.08" x2="683.6" y2="895.08" stroke="#fff" stroke-width="1.0"/>
<rect x="560.95" y="894.48" width="1.2" height="0.6" fill="#9A9A9A"/>
<polygon points="566.97,895.08 566.97,894.6 571.79,894.36 575.4,893.39 577.81,892.19 579.74,889.78 581.42,886.17 583.11,881.35 585.04,874.12 586.96,866.9 588.65,857.26 590.34,846.42 591.78,836.79 593.47,825.95 595.15,818.72 597.08,812.7 599.01,807.88 600.69,803.07 603.1,798.25 605.51,795.12 607.2,793.43 608.64,792.23 610.33,793.43 612.74,795.84 615.15,799.45 617.55,803.07 619.96,805.47 622.37,807.88 624.78,812.7 627.19,817.52 629.6,822.34 632.01,828.36 634.42,834.38 636.82,840.4 639.23,847.15 641.64,853.65 644.05,858.47 646.46,862.56 648.87,866.9 651.28,869.79 653.69,872.92 656.09,875.33 658.5,877.74 660.91,879.66 663.32,881.83 665.73,883.76 668.14,885.45 670.55,886.65 672.96,887.85 675.36,888.58 677.05,889.06 677.77,894.6 677.77,895.08" fill="#595959"/>
<line x1="598.77" y1="899.9" x2="598.77" y2="902.2" stroke="#333333" stroke-width="0.9"/>
<text x="598.77" y="912.44" class="t" font-size="7.1" fill="#383838" color="#383838" text-anchor="middle">50</text>
<line x1="646.22" y1="899.9" x2="646.22" y2="902.2" stroke="#333333" stroke-width="0.9"/>
<text x="646.22" y="912.44" class="t" font-size="7.1" fill="#383838" color="#383838" text-anchor="middle">100</text>
<line x1="553" y1="787.41" x2="555.3" y2="787.41" stroke="#333333" stroke-width="0.9"/>
<text x="548.5" y="789.95" class="t" font-size="7.1" fill="#383838" color="#383838" text-anchor="end">40000</text>
<line x1="553" y1="814.39" x2="555.3" y2="814.39" stroke="#333333" stroke-width="0.9"/>
<text x="548.5" y="816.93" class="t" font-size="7.1" fill="#383838" color="#383838" text-anchor="end">30000</text>
<line x1="553" y1="841.36" x2="555.3" y2="841.36" stroke="#333333" stroke-width="0.9"/>
<text x="548.5" y="843.91" class="t" font-size="7.1" fill="#383838" color="#383838" text-anchor="end">20000</text>
<line x1="553" y1="868.34" x2="555.3" y2="868.34" stroke="#333333" stroke-width="0.9"/>
<text x="548.5" y="870.88" class="t" font-size="7.1" fill="#383838" color="#383838" text-anchor="end">10000</text>
<line x1="553" y1="895.08" x2="555.3" y2="895.08" stroke="#333333" stroke-width="0.9"/>
<text x="548.5" y="897.62" class="t" font-size="7.1" fill="#383838" color="#383838" text-anchor="end">0</text>
<rect x="393.3" y="877" width="1.0" height="17.8" fill="#BDBDBD"/>
<text x="364.5" y="924.57" font-size="8.3" fill="#000" color="#000" text-anchor="middle">Power (kW)</text>
<text transform="translate(7.27,695.3) rotate(-90)" font-size="8.3" fill="#000" color="#000" text-anchor="middle">Count</text>
</svg>
</body></html>
